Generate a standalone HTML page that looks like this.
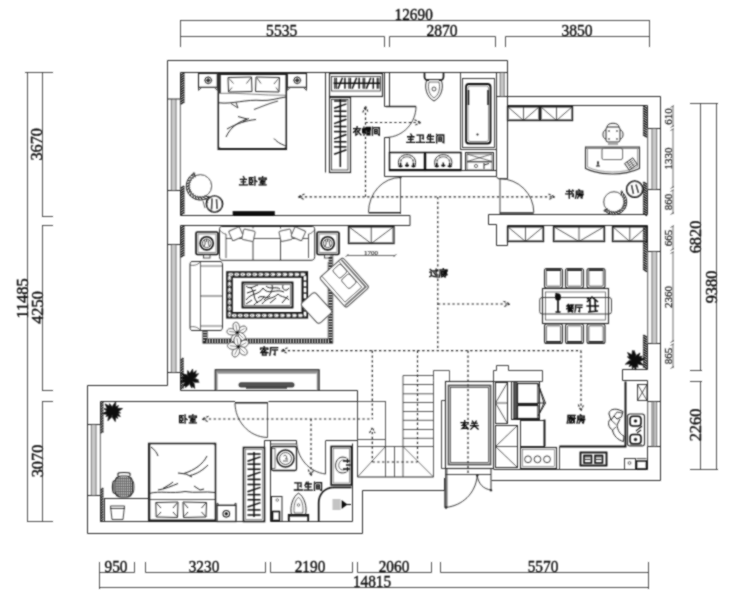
<!DOCTYPE html>
<html><head><meta charset="utf-8"><title>Floor plan</title>
<style>
html,body{margin:0;padding:0;background:#fff;}
body{width:740px;height:600px;overflow:hidden;font-family:"Liberation Serif",serif;}
svg{display:block}
</style></head><body>
<svg width="740" height="600" viewBox="0 0 740 600" stroke-linecap="butt">
<defs><filter id="soft" x="0" y="0" width="740" height="600" filterUnits="userSpaceOnUse"><feConvolveMatrix order="3" kernelMatrix="1 2 1 2 8 2 1 2 1" divisor="20" edgeMode="duplicate" preserveAlpha="false"/></filter></defs>
<rect x="0" y="0" width="740" height="600" fill="#ffffff"/>
<g filter="url(#soft)">
<line x1="180" y1="20.5" x2="649.5" y2="20.5" stroke="#3a3a3a" stroke-width="0.9" />
<line x1="180.5" y1="20" x2="180.5" y2="47" stroke="#3a3a3a" stroke-width="0.9" />
<line x1="649.5" y1="20" x2="649.5" y2="47" stroke="#3a3a3a" stroke-width="0.9" />
<polyline points="180.5,36.5 384.5,36.5 384.5,47" fill="none" stroke="#3a3a3a" stroke-width="0.9" />
<polyline points="389.5,47 389.5,36.5 495.5,36.5 495.5,47" fill="none" stroke="#3a3a3a" stroke-width="0.9" />
<polyline points="505.5,47 505.5,36.5 649.5,36.5" fill="none" stroke="#3a3a3a" stroke-width="0.9" />
<text x="413.7" y="19.5" font-family="'Liberation Serif', serif" font-size="16" text-anchor="middle" fill="#111" stroke="#111" stroke-width="0.4" textLength="38.2" lengthAdjust="spacingAndGlyphs">12690</text>
<text x="281.7" y="36" font-family="'Liberation Serif', serif" font-size="16" text-anchor="middle" fill="#111" stroke="#111" stroke-width="0.4" textLength="31.2" lengthAdjust="spacingAndGlyphs">5535</text>
<text x="442" y="36" font-family="'Liberation Serif', serif" font-size="16" text-anchor="middle" fill="#111" stroke="#111" stroke-width="0.4" textLength="31.2" lengthAdjust="spacingAndGlyphs">2870</text>
<text x="577" y="36" font-family="'Liberation Serif', serif" font-size="16" text-anchor="middle" fill="#111" stroke="#111" stroke-width="0.4" textLength="31.2" lengthAdjust="spacingAndGlyphs">3850</text>
<line x1="27.5" y1="72" x2="27.5" y2="521.5" stroke="#3a3a3a" stroke-width="0.9" />
<line x1="42.5" y1="72" x2="42.5" y2="216.5" stroke="#3a3a3a" stroke-width="0.9" />
<line x1="42.5" y1="225" x2="42.5" y2="390.5" stroke="#3a3a3a" stroke-width="0.9" />
<line x1="42.5" y1="401.5" x2="42.5" y2="521.5" stroke="#3a3a3a" stroke-width="0.9" />
<line x1="25" y1="72.5" x2="53" y2="72.5" stroke="#3a3a3a" stroke-width="0.9" />
<line x1="42" y1="216.5" x2="53" y2="216.5" stroke="#3a3a3a" stroke-width="0.9" />
<line x1="42" y1="225.5" x2="53" y2="225.5" stroke="#3a3a3a" stroke-width="0.9" />
<line x1="42" y1="390.5" x2="53" y2="390.5" stroke="#3a3a3a" stroke-width="0.9" />
<line x1="42" y1="401.5" x2="53" y2="401.5" stroke="#3a3a3a" stroke-width="0.9" />
<line x1="27" y1="521.5" x2="53" y2="521.5" stroke="#3a3a3a" stroke-width="0.9" />
<text x="42.5" y="144.3" font-family="'Liberation Serif', serif" font-size="16.3" text-anchor="middle" fill="#111" stroke="#111" stroke-width="0.4" transform="rotate(-90 42.5 144.3)" >3670</text>
<text x="27.5" y="298.5" font-family="'Liberation Serif', serif" font-size="16.3" text-anchor="middle" fill="#111" stroke="#111" stroke-width="0.4" transform="rotate(-90 27.5 298.5)" >11485</text>
<text x="42.5" y="307.5" font-family="'Liberation Serif', serif" font-size="16.3" text-anchor="middle" fill="#111" stroke="#111" stroke-width="0.4" transform="rotate(-90 42.5 307.5)" >4250</text>
<text x="42.5" y="461" font-family="'Liberation Serif', serif" font-size="16.3" text-anchor="middle" fill="#111" stroke="#111" stroke-width="0.4" transform="rotate(-90 42.5 461)" >3070</text>
<line x1="700.5" y1="103" x2="700.5" y2="370.5" stroke="#3a3a3a" stroke-width="0.9" />
<line x1="700.5" y1="381.5" x2="700.5" y2="469.5" stroke="#3a3a3a" stroke-width="0.9" />
<line x1="716.5" y1="103" x2="716.5" y2="469.5" stroke="#3a3a3a" stroke-width="0.9" />
<line x1="690" y1="103.5" x2="718" y2="103.5" stroke="#3a3a3a" stroke-width="0.9" />
<line x1="690" y1="370.5" x2="702" y2="370.5" stroke="#3a3a3a" stroke-width="0.9" />
<line x1="690" y1="381.5" x2="702" y2="381.5" stroke="#3a3a3a" stroke-width="0.9" />
<line x1="690" y1="469.5" x2="718" y2="469.5" stroke="#3a3a3a" stroke-width="0.9" />
<text x="701.3" y="237" font-family="'Liberation Serif', serif" font-size="16.3" text-anchor="middle" fill="#111" stroke="#111" stroke-width="0.4" transform="rotate(-90 701.3 237)" >6820</text>
<text x="716.8" y="287" font-family="'Liberation Serif', serif" font-size="16.3" text-anchor="middle" fill="#111" stroke="#111" stroke-width="0.4" transform="rotate(-90 716.8 287)" >9380</text>
<text x="701.3" y="425" font-family="'Liberation Serif', serif" font-size="16.3" text-anchor="middle" fill="#111" stroke="#111" stroke-width="0.4" transform="rotate(-90 701.3 425)" >2260</text>
<line x1="673" y1="106" x2="673" y2="127" stroke="#444" stroke-width="0.8" />
<line x1="670.5" y1="107.5" x2="674" y2="105.5" stroke="#444" stroke-width="0.8" />
<line x1="670.5" y1="127.5" x2="674" y2="125.5" stroke="#444" stroke-width="0.8" />
<text x="672.3" y="116.5" font-family="'Liberation Serif', serif" font-size="11" text-anchor="middle" fill="#222" stroke="#222" stroke-width="0.25" transform="rotate(-90 672.3 116.5)" >610</text>
<line x1="673" y1="129" x2="673" y2="188" stroke="#444" stroke-width="0.8" />
<line x1="670.5" y1="130.5" x2="674" y2="128.5" stroke="#444" stroke-width="0.8" />
<line x1="670.5" y1="188.5" x2="674" y2="186.5" stroke="#444" stroke-width="0.8" />
<text x="672.3" y="158.5" font-family="'Liberation Serif', serif" font-size="11" text-anchor="middle" fill="#222" stroke="#222" stroke-width="0.25" transform="rotate(-90 672.3 158.5)" >1330</text>
<line x1="673" y1="190" x2="673" y2="214" stroke="#444" stroke-width="0.8" />
<line x1="670.5" y1="191.5" x2="674" y2="189.5" stroke="#444" stroke-width="0.8" />
<line x1="670.5" y1="214.5" x2="674" y2="212.5" stroke="#444" stroke-width="0.8" />
<text x="672.3" y="202.0" font-family="'Liberation Serif', serif" font-size="11" text-anchor="middle" fill="#222" stroke="#222" stroke-width="0.25" transform="rotate(-90 672.3 202.0)" >860</text>
<line x1="673" y1="226" x2="673" y2="250" stroke="#444" stroke-width="0.8" />
<line x1="670.5" y1="227.5" x2="674" y2="225.5" stroke="#444" stroke-width="0.8" />
<line x1="670.5" y1="250.5" x2="674" y2="248.5" stroke="#444" stroke-width="0.8" />
<text x="672.3" y="238.0" font-family="'Liberation Serif', serif" font-size="11" text-anchor="middle" fill="#222" stroke="#222" stroke-width="0.25" transform="rotate(-90 672.3 238.0)" >665</text>
<line x1="673" y1="252" x2="673" y2="342" stroke="#444" stroke-width="0.8" />
<line x1="670.5" y1="253.5" x2="674" y2="251.5" stroke="#444" stroke-width="0.8" />
<line x1="670.5" y1="342.5" x2="674" y2="340.5" stroke="#444" stroke-width="0.8" />
<text x="672.3" y="297.0" font-family="'Liberation Serif', serif" font-size="11" text-anchor="middle" fill="#222" stroke="#222" stroke-width="0.25" transform="rotate(-90 672.3 297.0)" >2360</text>
<line x1="673" y1="344" x2="673" y2="368" stroke="#444" stroke-width="0.8" />
<line x1="670.5" y1="345.5" x2="674" y2="343.5" stroke="#444" stroke-width="0.8" />
<line x1="670.5" y1="368.5" x2="674" y2="366.5" stroke="#444" stroke-width="0.8" />
<text x="672.3" y="356.0" font-family="'Liberation Serif', serif" font-size="11" text-anchor="middle" fill="#222" stroke="#222" stroke-width="0.25" transform="rotate(-90 672.3 356.0)" >865</text>
<line x1="99" y1="587.5" x2="648.5" y2="587.5" stroke="#3a3a3a" stroke-width="0.9" />
<line x1="99.5" y1="562" x2="99.5" y2="589" stroke="#3a3a3a" stroke-width="0.9" />
<line x1="648.5" y1="562" x2="648.5" y2="589" stroke="#3a3a3a" stroke-width="0.9" />
<polyline points="99.5,572.5 134.5,572.5 134.5,562" fill="none" stroke="#3a3a3a" stroke-width="0.9" />
<polyline points="145.5,562 145.5,572.5 265.5,572.5 265.5,562" fill="none" stroke="#3a3a3a" stroke-width="0.9" />
<polyline points="270.5,562 270.5,572.5 352.5,572.5 352.5,562" fill="none" stroke="#3a3a3a" stroke-width="0.9" />
<polyline points="357.5,562 357.5,572.5 431.5,572.5 431.5,562" fill="none" stroke="#3a3a3a" stroke-width="0.9" />
<polyline points="440.5,562 440.5,572.5 648.5,572.5" fill="none" stroke="#3a3a3a" stroke-width="0.9" />
<text x="116" y="572" font-family="'Liberation Serif', serif" font-size="16" text-anchor="middle" fill="#111" stroke="#111" stroke-width="0.4" textLength="23.0" lengthAdjust="spacingAndGlyphs">950</text>
<text x="204" y="572" font-family="'Liberation Serif', serif" font-size="16" text-anchor="middle" fill="#111" stroke="#111" stroke-width="0.4" textLength="30.6" lengthAdjust="spacingAndGlyphs">3230</text>
<text x="310" y="572" font-family="'Liberation Serif', serif" font-size="16" text-anchor="middle" fill="#111" stroke="#111" stroke-width="0.4" textLength="30.6" lengthAdjust="spacingAndGlyphs">2190</text>
<text x="394" y="572" font-family="'Liberation Serif', serif" font-size="16" text-anchor="middle" fill="#111" stroke="#111" stroke-width="0.4" textLength="30.6" lengthAdjust="spacingAndGlyphs">2060</text>
<text x="543" y="572" font-family="'Liberation Serif', serif" font-size="16" text-anchor="middle" fill="#111" stroke="#111" stroke-width="0.4" textLength="30.6" lengthAdjust="spacingAndGlyphs">5570</text>
<text x="372" y="587" font-family="'Liberation Serif', serif" font-size="16" text-anchor="middle" fill="#111" stroke="#111" stroke-width="0.4" textLength="38.2" lengthAdjust="spacingAndGlyphs">14815</text>
<polyline points="167.5,385.5 167.5,60.5 507.5,60.5 507.5,96.5" fill="none" stroke="#2b2b2b" stroke-width="1" />
<polyline points="496.5,96.5 660.5,96.5 660.5,480.5 491.5,480.5" fill="none" stroke="#2b2b2b" stroke-width="1" />
<polyline points="444.5,478 444.5,490.5 362.5,490.5 362.5,533.5 87.5,533.5 87.5,385.5 167.5,385.5" fill="none" stroke="#2b2b2b" stroke-width="1" />
<line x1="180.5" y1="72.5" x2="496.5" y2="72.5" stroke="#2b2b2b" stroke-width="1" />
<line x1="180.5" y1="72.5" x2="180.5" y2="99" stroke="#2b2b2b" stroke-width="1" />
<rect x="171.34" y="99" width="4.74" height="91.5" fill="#c9c9c9" stroke="none"/>
<line x1="171.34" y1="99" x2="171.34" y2="190.5" stroke="#555" stroke-width="0.8" />
<line x1="176.08" y1="99" x2="176.08" y2="190.5" stroke="#555" stroke-width="0.8" />
<line x1="180.3" y1="99" x2="180.3" y2="190.5" stroke="#444" stroke-width="0.9" />
<line x1="167.5" y1="99" x2="180.3" y2="99" stroke="#2b2b2b" stroke-width="1" />
<line x1="167.5" y1="190.5" x2="180.3" y2="190.5" stroke="#2b2b2b" stroke-width="1" />
<line x1="180.5" y1="190.5" x2="180.5" y2="215.5" stroke="#2b2b2b" stroke-width="1" />
<line x1="180.5" y1="225.5" x2="180.5" y2="244.5" stroke="#2b2b2b" stroke-width="1" />
<rect x="171.34" y="244.5" width="4.74" height="128.0" fill="#c9c9c9" stroke="none"/>
<line x1="171.34" y1="244.5" x2="171.34" y2="372.5" stroke="#555" stroke-width="0.8" />
<line x1="176.08" y1="244.5" x2="176.08" y2="372.5" stroke="#555" stroke-width="0.8" />
<line x1="180.3" y1="244.5" x2="180.3" y2="372.5" stroke="#444" stroke-width="0.9" />
<line x1="167.5" y1="244.5" x2="180.3" y2="244.5" stroke="#2b2b2b" stroke-width="1" />
<line x1="167.5" y1="372.5" x2="180.3" y2="372.5" stroke="#2b2b2b" stroke-width="1" />
<line x1="180.5" y1="372.5" x2="180.5" y2="390.5" stroke="#2b2b2b" stroke-width="1" />
<polyline points="180.5,215.5 410,215.5 410,225.5 180.5,225.5" fill="none" stroke="#2b2b2b" stroke-width="1" />
<line x1="325.5" y1="72.5" x2="325.5" y2="172.5" stroke="#2b2b2b" stroke-width="1" />
<polyline points="384.5,72.5 384.5,106.5" fill="none" stroke="#2b2b2b" stroke-width="1" />
<polyline points="389.5,72.5 389.5,106.5" fill="none" stroke="#2b2b2b" stroke-width="1" />
<line x1="384.5" y1="106.5" x2="389.5" y2="106.5" stroke="#2b2b2b" stroke-width="1" />
<polyline points="384.5,137.5 384.5,176.5 496.5,176.5" fill="none" stroke="#2b2b2b" stroke-width="1" />
<polyline points="384.5,137.5 389.5,137.5 389.5,170.5 496.5,170.5" fill="none" stroke="#2b2b2b" stroke-width="1" />
<line x1="496.5" y1="72.5" x2="496.5" y2="176.5" stroke="#2b2b2b" stroke-width="1" />
<line x1="507.5" y1="96.5" x2="507.5" y2="178.7" stroke="#2b2b2b" stroke-width="1" />
<polyline points="496.5,176.5 498,178.7 507.5,178.7" fill="none" stroke="#2b2b2b" stroke-width="1" />
<rect x="500.13" y="72.5" width="4.07" height="24.0" fill="#c9c9c9" stroke="none"/>
<line x1="500.13" y1="72.5" x2="500.13" y2="96.5" stroke="#555" stroke-width="0.8" />
<line x1="504.2" y1="72.5" x2="504.2" y2="96.5" stroke="#555" stroke-width="0.8" />
<line x1="496.5" y1="72.5" x2="496.5" y2="96.5" stroke="#444" stroke-width="0.9" />
<line x1="496.5" y1="72.5" x2="507.5" y2="72.5" stroke="#2b2b2b" stroke-width="1" />
<line x1="496.5" y1="96.5" x2="507.5" y2="96.5" stroke="#2b2b2b" stroke-width="1" />
<line x1="507.5" y1="105.5" x2="647.5" y2="105.5" stroke="#2b2b2b" stroke-width="1" />
<line x1="647.5" y1="105.5" x2="647.5" y2="128.5" stroke="#2b2b2b" stroke-width="1" />
<rect x="651.92" y="128.5" width="4.74" height="61.0" fill="#c9c9c9" stroke="none"/>
<line x1="651.92" y1="128.5" x2="651.92" y2="189.5" stroke="#555" stroke-width="0.8" />
<line x1="656.66" y1="128.5" x2="656.66" y2="189.5" stroke="#555" stroke-width="0.8" />
<line x1="647.7" y1="128.5" x2="647.7" y2="189.5" stroke="#444" stroke-width="0.9" />
<line x1="647.7" y1="128.5" x2="660.5" y2="128.5" stroke="#2b2b2b" stroke-width="1" />
<line x1="647.7" y1="189.5" x2="660.5" y2="189.5" stroke="#2b2b2b" stroke-width="1" />
<line x1="647.5" y1="189.5" x2="647.5" y2="214.5" stroke="#2b2b2b" stroke-width="1" />
<polyline points="647.5,214.5 488.5,214.5 488.5,224.5 496.5,224.5 496.5,245.5 507.5,245.5 507.5,225.5 647.5,225.5 647.5,251.5" fill="none" stroke="#2b2b2b" stroke-width="1" />
<rect x="651.92" y="251.5" width="4.74" height="92.0" fill="#c9c9c9" stroke="none"/>
<line x1="651.92" y1="251.5" x2="651.92" y2="343.5" stroke="#555" stroke-width="0.8" />
<line x1="656.66" y1="251.5" x2="656.66" y2="343.5" stroke="#555" stroke-width="0.8" />
<line x1="647.7" y1="251.5" x2="647.7" y2="343.5" stroke="#444" stroke-width="0.9" />
<line x1="647.7" y1="251.5" x2="660.5" y2="251.5" stroke="#2b2b2b" stroke-width="1" />
<line x1="647.7" y1="343.5" x2="660.5" y2="343.5" stroke="#2b2b2b" stroke-width="1" />
<polyline points="647.5,343.5 647.5,369.5 622.5,369.5 622.5,380.5 647.5,380.5 647.5,401.5" fill="none" stroke="#2b2b2b" stroke-width="1" />
<rect x="651.92" y="401.5" width="4.74" height="45.0" fill="#c9c9c9" stroke="none"/>
<line x1="651.92" y1="401.5" x2="651.92" y2="446.5" stroke="#555" stroke-width="0.8" />
<line x1="656.66" y1="401.5" x2="656.66" y2="446.5" stroke="#555" stroke-width="0.8" />
<line x1="647.7" y1="401.5" x2="647.7" y2="446.5" stroke="#444" stroke-width="0.9" />
<line x1="647.7" y1="401.5" x2="660.5" y2="401.5" stroke="#2b2b2b" stroke-width="1" />
<line x1="647.7" y1="446.5" x2="660.5" y2="446.5" stroke="#2b2b2b" stroke-width="1" />
<line x1="653.8" y1="401.5" x2="653.8" y2="446.5" stroke="#666" stroke-width="0.7" />
<polyline points="647.5,446.5 647.5,469.5 493.5,469.5" fill="none" stroke="#2b2b2b" stroke-width="1" />
<line x1="180.5" y1="390.5" x2="357.5" y2="390.5" stroke="#2b2b2b" stroke-width="1" />
<polyline points="235,401.5 100.5,401.5 100.5,424.5" fill="none" stroke="#2b2b2b" stroke-width="1" />
<rect x="91.34" y="424.5" width="4.74" height="71.0" fill="#c9c9c9" stroke="none"/>
<line x1="91.34" y1="424.5" x2="91.34" y2="495.5" stroke="#555" stroke-width="0.8" />
<line x1="96.08" y1="424.5" x2="96.08" y2="495.5" stroke="#555" stroke-width="0.8" />
<line x1="100.3" y1="424.5" x2="100.3" y2="495.5" stroke="#444" stroke-width="0.9" />
<line x1="87.5" y1="424.5" x2="100.3" y2="424.5" stroke="#2b2b2b" stroke-width="1" />
<line x1="87.5" y1="495.5" x2="100.3" y2="495.5" stroke="#2b2b2b" stroke-width="1" />
<polyline points="100.5,495.5 100.5,521.5 264.5,521.5" fill="none" stroke="#2b2b2b" stroke-width="1" />
<line x1="268.5" y1="401.5" x2="357.5" y2="401.5" stroke="#2b2b2b" stroke-width="1" />
<polyline points="264.5,521.5 264.5,440.5" fill="none" stroke="#2b2b2b" stroke-width="1" />
<polyline points="270.5,521.5 270.5,440.5" fill="none" stroke="#2b2b2b" stroke-width="1" />
<line x1="264.5" y1="440.5" x2="296.5" y2="440.5" stroke="#2b2b2b" stroke-width="1" />
<line x1="325.5" y1="440.5" x2="357.5" y2="440.5" stroke="#2b2b2b" stroke-width="1" />
<line x1="270.5" y1="521.5" x2="352.5" y2="521.5" stroke="#2b2b2b" stroke-width="1" />
<line x1="352.5" y1="521.5" x2="352.5" y2="443.5" stroke="#2b2b2b" stroke-width="1" />
<line x1="357.5" y1="390.5" x2="357.5" y2="477" stroke="#2b2b2b" stroke-width="1" />
<line x1="357.5" y1="477" x2="433.5" y2="477" stroke="#2b2b2b" stroke-width="1" />
<line x1="180.5" y1="75.4" x2="184.1" y2="73" stroke="#1c1c1c" stroke-width="1.5" />
<line x1="180.5" y1="77.80000000000001" x2="184.1" y2="75.4" stroke="#1c1c1c" stroke-width="1.5" />
<line x1="180.5" y1="80.20000000000002" x2="184.1" y2="77.80000000000001" stroke="#1c1c1c" stroke-width="1.5" />
<line x1="180.5" y1="82.60000000000002" x2="184.1" y2="80.20000000000002" stroke="#1c1c1c" stroke-width="1.5" />
<line x1="180.5" y1="85.00000000000003" x2="184.1" y2="82.60000000000002" stroke="#1c1c1c" stroke-width="1.5" />
<line x1="180.5" y1="87.40000000000003" x2="184.1" y2="85.00000000000003" stroke="#1c1c1c" stroke-width="1.5" />
<line x1="180.5" y1="89.80000000000004" x2="184.1" y2="87.40000000000003" stroke="#1c1c1c" stroke-width="1.5" />
<line x1="180.5" y1="92.20000000000005" x2="184.1" y2="89.80000000000004" stroke="#1c1c1c" stroke-width="1.5" />
<line x1="180.5" y1="94.60000000000005" x2="184.1" y2="92.20000000000005" stroke="#1c1c1c" stroke-width="1.5" />
<line x1="180.5" y1="97.00000000000006" x2="184.1" y2="94.60000000000005" stroke="#1c1c1c" stroke-width="1.5" />
<line x1="180.5" y1="99.40000000000006" x2="184.1" y2="97.00000000000006" stroke="#1c1c1c" stroke-width="1.5" />
<line x1="180.5" y1="101.80000000000007" x2="184.1" y2="99.40000000000006" stroke="#1c1c1c" stroke-width="1.5" />
<line x1="180.5" y1="104.20000000000007" x2="184.1" y2="101.80000000000007" stroke="#1c1c1c" stroke-width="1.5" />
<line x1="184.1" y1="73" x2="184.1" y2="103" stroke="#1c1c1c" stroke-width="0.6" />
<line x1="180.5" y1="188.4" x2="184.1" y2="186" stroke="#1c1c1c" stroke-width="1.5" />
<line x1="180.5" y1="190.8" x2="184.1" y2="188.4" stroke="#1c1c1c" stroke-width="1.5" />
<line x1="180.5" y1="193.20000000000002" x2="184.1" y2="190.8" stroke="#1c1c1c" stroke-width="1.5" />
<line x1="180.5" y1="195.60000000000002" x2="184.1" y2="193.20000000000002" stroke="#1c1c1c" stroke-width="1.5" />
<line x1="180.5" y1="198.00000000000003" x2="184.1" y2="195.60000000000002" stroke="#1c1c1c" stroke-width="1.5" />
<line x1="180.5" y1="200.40000000000003" x2="184.1" y2="198.00000000000003" stroke="#1c1c1c" stroke-width="1.5" />
<line x1="180.5" y1="202.80000000000004" x2="184.1" y2="200.40000000000003" stroke="#1c1c1c" stroke-width="1.5" />
<line x1="180.5" y1="205.20000000000005" x2="184.1" y2="202.80000000000004" stroke="#1c1c1c" stroke-width="1.5" />
<line x1="180.5" y1="207.60000000000005" x2="184.1" y2="205.20000000000005" stroke="#1c1c1c" stroke-width="1.5" />
<line x1="180.5" y1="210.00000000000006" x2="184.1" y2="207.60000000000005" stroke="#1c1c1c" stroke-width="1.5" />
<line x1="180.5" y1="212.40000000000006" x2="184.1" y2="210.00000000000006" stroke="#1c1c1c" stroke-width="1.5" />
<line x1="180.5" y1="214.80000000000007" x2="184.1" y2="212.40000000000006" stroke="#1c1c1c" stroke-width="1.5" />
<line x1="184.1" y1="186" x2="184.1" y2="214" stroke="#1c1c1c" stroke-width="0.6" />
<line x1="180.5" y1="228.4" x2="184.1" y2="226" stroke="#1c1c1c" stroke-width="1.5" />
<line x1="180.5" y1="230.8" x2="184.1" y2="228.4" stroke="#1c1c1c" stroke-width="1.5" />
<line x1="180.5" y1="233.20000000000002" x2="184.1" y2="230.8" stroke="#1c1c1c" stroke-width="1.5" />
<line x1="180.5" y1="235.60000000000002" x2="184.1" y2="233.20000000000002" stroke="#1c1c1c" stroke-width="1.5" />
<line x1="180.5" y1="238.00000000000003" x2="184.1" y2="235.60000000000002" stroke="#1c1c1c" stroke-width="1.5" />
<line x1="180.5" y1="240.40000000000003" x2="184.1" y2="238.00000000000003" stroke="#1c1c1c" stroke-width="1.5" />
<line x1="180.5" y1="242.80000000000004" x2="184.1" y2="240.40000000000003" stroke="#1c1c1c" stroke-width="1.5" />
<line x1="180.5" y1="245.20000000000005" x2="184.1" y2="242.80000000000004" stroke="#1c1c1c" stroke-width="1.5" />
<line x1="180.5" y1="247.60000000000005" x2="184.1" y2="245.20000000000005" stroke="#1c1c1c" stroke-width="1.5" />
<line x1="180.5" y1="250.00000000000006" x2="184.1" y2="247.60000000000005" stroke="#1c1c1c" stroke-width="1.5" />
<line x1="180.5" y1="252.40000000000006" x2="184.1" y2="250.00000000000006" stroke="#1c1c1c" stroke-width="1.5" />
<line x1="180.5" y1="254.80000000000007" x2="184.1" y2="252.40000000000006" stroke="#1c1c1c" stroke-width="1.5" />
<line x1="180.5" y1="257.20000000000005" x2="184.1" y2="254.80000000000007" stroke="#1c1c1c" stroke-width="1.5" />
<line x1="184.1" y1="226" x2="184.1" y2="256" stroke="#1c1c1c" stroke-width="0.6" />
<line x1="180.5" y1="360.6" x2="183.3" y2="358" stroke="#2a2a2a" stroke-width="1.5" />
<line x1="180.5" y1="363.20000000000005" x2="183.3" y2="360.6" stroke="#2a2a2a" stroke-width="1.5" />
<line x1="180.5" y1="365.80000000000007" x2="183.3" y2="363.20000000000005" stroke="#2a2a2a" stroke-width="1.5" />
<line x1="180.5" y1="368.4000000000001" x2="183.3" y2="365.80000000000007" stroke="#2a2a2a" stroke-width="1.5" />
<line x1="180.5" y1="371.0000000000001" x2="183.3" y2="368.4000000000001" stroke="#2a2a2a" stroke-width="1.5" />
<line x1="180.5" y1="373.60000000000014" x2="183.3" y2="371.0000000000001" stroke="#2a2a2a" stroke-width="1.5" />
<line x1="180.5" y1="376.20000000000016" x2="183.3" y2="373.60000000000014" stroke="#2a2a2a" stroke-width="1.5" />
<line x1="180.5" y1="378.8000000000002" x2="183.3" y2="376.20000000000016" stroke="#2a2a2a" stroke-width="1.5" />
<line x1="180.5" y1="381.4000000000002" x2="183.3" y2="378.8000000000002" stroke="#2a2a2a" stroke-width="1.5" />
<line x1="180.5" y1="384.0000000000002" x2="183.3" y2="381.4000000000002" stroke="#2a2a2a" stroke-width="1.5" />
<line x1="180.5" y1="386.60000000000025" x2="183.3" y2="384.0000000000002" stroke="#2a2a2a" stroke-width="1.5" />
<line x1="180.5" y1="389.2000000000003" x2="183.3" y2="386.60000000000025" stroke="#2a2a2a" stroke-width="1.5" />
<line x1="183.3" y1="358" x2="183.3" y2="389" stroke="#2a2a2a" stroke-width="0.6" />
<line x1="100.5" y1="404.6" x2="103.1" y2="402" stroke="#333" stroke-width="1.5" />
<line x1="100.5" y1="407.20000000000005" x2="103.1" y2="404.6" stroke="#333" stroke-width="1.5" />
<line x1="100.5" y1="409.80000000000007" x2="103.1" y2="407.20000000000005" stroke="#333" stroke-width="1.5" />
<line x1="100.5" y1="412.4000000000001" x2="103.1" y2="409.80000000000007" stroke="#333" stroke-width="1.5" />
<line x1="100.5" y1="415.0000000000001" x2="103.1" y2="412.4000000000001" stroke="#333" stroke-width="1.5" />
<line x1="100.5" y1="417.60000000000014" x2="103.1" y2="415.0000000000001" stroke="#333" stroke-width="1.5" />
<line x1="100.5" y1="420.20000000000016" x2="103.1" y2="417.60000000000014" stroke="#333" stroke-width="1.5" />
<line x1="100.5" y1="422.8000000000002" x2="103.1" y2="420.20000000000016" stroke="#333" stroke-width="1.5" />
<line x1="100.5" y1="425.4000000000002" x2="103.1" y2="422.8000000000002" stroke="#333" stroke-width="1.5" />
<line x1="100.5" y1="428.0000000000002" x2="103.1" y2="425.4000000000002" stroke="#333" stroke-width="1.5" />
<line x1="100.5" y1="430.60000000000025" x2="103.1" y2="428.0000000000002" stroke="#333" stroke-width="1.5" />
<line x1="100.5" y1="433.2000000000003" x2="103.1" y2="430.60000000000025" stroke="#333" stroke-width="1.5" />
<line x1="103.1" y1="402" x2="103.1" y2="433" stroke="#333" stroke-width="0.6" />
<line x1="100.5" y1="490.6" x2="103.1" y2="488" stroke="#333" stroke-width="1.5" />
<line x1="100.5" y1="493.20000000000005" x2="103.1" y2="490.6" stroke="#333" stroke-width="1.5" />
<line x1="100.5" y1="495.80000000000007" x2="103.1" y2="493.20000000000005" stroke="#333" stroke-width="1.5" />
<line x1="100.5" y1="498.4000000000001" x2="103.1" y2="495.80000000000007" stroke="#333" stroke-width="1.5" />
<line x1="100.5" y1="501.0000000000001" x2="103.1" y2="498.4000000000001" stroke="#333" stroke-width="1.5" />
<line x1="100.5" y1="503.60000000000014" x2="103.1" y2="501.0000000000001" stroke="#333" stroke-width="1.5" />
<line x1="100.5" y1="506.20000000000016" x2="103.1" y2="503.60000000000014" stroke="#333" stroke-width="1.5" />
<line x1="100.5" y1="508.8000000000002" x2="103.1" y2="506.20000000000016" stroke="#333" stroke-width="1.5" />
<line x1="100.5" y1="511.4000000000002" x2="103.1" y2="508.8000000000002" stroke="#333" stroke-width="1.5" />
<line x1="100.5" y1="514.0000000000002" x2="103.1" y2="511.4000000000002" stroke="#333" stroke-width="1.5" />
<line x1="100.5" y1="516.6000000000003" x2="103.1" y2="514.0000000000002" stroke="#333" stroke-width="1.5" />
<line x1="100.5" y1="519.2000000000003" x2="103.1" y2="516.6000000000003" stroke="#333" stroke-width="1.5" />
<line x1="100.5" y1="521.8000000000003" x2="103.1" y2="519.2000000000003" stroke="#333" stroke-width="1.5" />
<line x1="103.1" y1="488" x2="103.1" y2="520" stroke="#333" stroke-width="0.6" />
<line x1="643.4" y1="106" x2="647" y2="108.4" stroke="#1c1c1c" stroke-width="1.5" />
<line x1="643.4" y1="108.4" x2="647" y2="110.80000000000001" stroke="#1c1c1c" stroke-width="1.5" />
<line x1="643.4" y1="110.80000000000001" x2="647" y2="113.20000000000002" stroke="#1c1c1c" stroke-width="1.5" />
<line x1="643.4" y1="113.20000000000002" x2="647" y2="115.60000000000002" stroke="#1c1c1c" stroke-width="1.5" />
<line x1="643.4" y1="115.60000000000002" x2="647" y2="118.00000000000003" stroke="#1c1c1c" stroke-width="1.5" />
<line x1="643.4" y1="118.00000000000003" x2="647" y2="120.40000000000003" stroke="#1c1c1c" stroke-width="1.5" />
<line x1="643.4" y1="120.40000000000003" x2="647" y2="122.80000000000004" stroke="#1c1c1c" stroke-width="1.5" />
<line x1="643.4" y1="122.80000000000004" x2="647" y2="125.20000000000005" stroke="#1c1c1c" stroke-width="1.5" />
<line x1="643.4" y1="125.20000000000005" x2="647" y2="127.60000000000005" stroke="#1c1c1c" stroke-width="1.5" />
<line x1="643.4" y1="127.60000000000005" x2="647" y2="130.00000000000006" stroke="#1c1c1c" stroke-width="1.5" />
<line x1="643.4" y1="130.00000000000006" x2="647" y2="132.40000000000006" stroke="#1c1c1c" stroke-width="1.5" />
<line x1="643.4" y1="132.40000000000006" x2="647" y2="134.80000000000007" stroke="#1c1c1c" stroke-width="1.5" />
<line x1="643.4" y1="134.80000000000007" x2="647" y2="137.20000000000007" stroke="#1c1c1c" stroke-width="1.5" />
<line x1="643.4" y1="106" x2="643.4" y2="136" stroke="#1c1c1c" stroke-width="0.6" />
<line x1="643.4" y1="182" x2="647" y2="184.4" stroke="#1c1c1c" stroke-width="1.5" />
<line x1="643.4" y1="184.4" x2="647" y2="186.8" stroke="#1c1c1c" stroke-width="1.5" />
<line x1="643.4" y1="186.8" x2="647" y2="189.20000000000002" stroke="#1c1c1c" stroke-width="1.5" />
<line x1="643.4" y1="189.20000000000002" x2="647" y2="191.60000000000002" stroke="#1c1c1c" stroke-width="1.5" />
<line x1="643.4" y1="191.60000000000002" x2="647" y2="194.00000000000003" stroke="#1c1c1c" stroke-width="1.5" />
<line x1="643.4" y1="194.00000000000003" x2="647" y2="196.40000000000003" stroke="#1c1c1c" stroke-width="1.5" />
<line x1="643.4" y1="196.40000000000003" x2="647" y2="198.80000000000004" stroke="#1c1c1c" stroke-width="1.5" />
<line x1="643.4" y1="198.80000000000004" x2="647" y2="201.20000000000005" stroke="#1c1c1c" stroke-width="1.5" />
<line x1="643.4" y1="201.20000000000005" x2="647" y2="203.60000000000005" stroke="#1c1c1c" stroke-width="1.5" />
<line x1="643.4" y1="203.60000000000005" x2="647" y2="206.00000000000006" stroke="#1c1c1c" stroke-width="1.5" />
<line x1="643.4" y1="206.00000000000006" x2="647" y2="208.40000000000006" stroke="#1c1c1c" stroke-width="1.5" />
<line x1="643.4" y1="208.40000000000006" x2="647" y2="210.80000000000007" stroke="#1c1c1c" stroke-width="1.5" />
<line x1="643.4" y1="210.80000000000007" x2="647" y2="213.20000000000007" stroke="#1c1c1c" stroke-width="1.5" />
<line x1="643.4" y1="213.20000000000007" x2="647" y2="215.60000000000008" stroke="#1c1c1c" stroke-width="1.5" />
<line x1="643.4" y1="182" x2="643.4" y2="214" stroke="#1c1c1c" stroke-width="0.6" />
<line x1="643.4" y1="226" x2="647" y2="228.4" stroke="#1c1c1c" stroke-width="1.5" />
<line x1="643.4" y1="228.4" x2="647" y2="230.8" stroke="#1c1c1c" stroke-width="1.5" />
<line x1="643.4" y1="230.8" x2="647" y2="233.20000000000002" stroke="#1c1c1c" stroke-width="1.5" />
<line x1="643.4" y1="233.20000000000002" x2="647" y2="235.60000000000002" stroke="#1c1c1c" stroke-width="1.5" />
<line x1="643.4" y1="235.60000000000002" x2="647" y2="238.00000000000003" stroke="#1c1c1c" stroke-width="1.5" />
<line x1="643.4" y1="238.00000000000003" x2="647" y2="240.40000000000003" stroke="#1c1c1c" stroke-width="1.5" />
<line x1="643.4" y1="240.40000000000003" x2="647" y2="242.80000000000004" stroke="#1c1c1c" stroke-width="1.5" />
<line x1="643.4" y1="242.80000000000004" x2="647" y2="245.20000000000005" stroke="#1c1c1c" stroke-width="1.5" />
<line x1="643.4" y1="245.20000000000005" x2="647" y2="247.60000000000005" stroke="#1c1c1c" stroke-width="1.5" />
<line x1="643.4" y1="247.60000000000005" x2="647" y2="250.00000000000006" stroke="#1c1c1c" stroke-width="1.5" />
<line x1="643.4" y1="250.00000000000006" x2="647" y2="252.40000000000006" stroke="#1c1c1c" stroke-width="1.5" />
<line x1="643.4" y1="252.40000000000006" x2="647" y2="254.80000000000007" stroke="#1c1c1c" stroke-width="1.5" />
<line x1="643.4" y1="254.80000000000007" x2="647" y2="257.20000000000005" stroke="#1c1c1c" stroke-width="1.5" />
<line x1="643.4" y1="257.20000000000005" x2="647" y2="259.6" stroke="#1c1c1c" stroke-width="1.5" />
<line x1="643.4" y1="259.6" x2="647" y2="262.0" stroke="#1c1c1c" stroke-width="1.5" />
<line x1="643.4" y1="262.0" x2="647" y2="264.4" stroke="#1c1c1c" stroke-width="1.5" />
<line x1="643.4" y1="264.4" x2="647" y2="266.79999999999995" stroke="#1c1c1c" stroke-width="1.5" />
<line x1="643.4" y1="266.79999999999995" x2="647" y2="269.19999999999993" stroke="#1c1c1c" stroke-width="1.5" />
<line x1="643.4" y1="269.19999999999993" x2="647" y2="271.5999999999999" stroke="#1c1c1c" stroke-width="1.5" />
<line x1="643.4" y1="226" x2="643.4" y2="270" stroke="#1c1c1c" stroke-width="0.6" />
<line x1="643.4" y1="335" x2="647" y2="337.4" stroke="#1c1c1c" stroke-width="1.5" />
<line x1="643.4" y1="337.4" x2="647" y2="339.79999999999995" stroke="#1c1c1c" stroke-width="1.5" />
<line x1="643.4" y1="339.79999999999995" x2="647" y2="342.19999999999993" stroke="#1c1c1c" stroke-width="1.5" />
<line x1="643.4" y1="342.19999999999993" x2="647" y2="344.5999999999999" stroke="#1c1c1c" stroke-width="1.5" />
<line x1="643.4" y1="344.5999999999999" x2="647" y2="346.9999999999999" stroke="#1c1c1c" stroke-width="1.5" />
<line x1="643.4" y1="346.9999999999999" x2="647" y2="349.39999999999986" stroke="#1c1c1c" stroke-width="1.5" />
<line x1="643.4" y1="349.39999999999986" x2="647" y2="351.79999999999984" stroke="#1c1c1c" stroke-width="1.5" />
<line x1="643.4" y1="351.79999999999984" x2="647" y2="354.1999999999998" stroke="#1c1c1c" stroke-width="1.5" />
<line x1="643.4" y1="354.1999999999998" x2="647" y2="356.5999999999998" stroke="#1c1c1c" stroke-width="1.5" />
<line x1="643.4" y1="356.5999999999998" x2="647" y2="358.9999999999998" stroke="#1c1c1c" stroke-width="1.5" />
<line x1="643.4" y1="358.9999999999998" x2="647" y2="361.39999999999975" stroke="#1c1c1c" stroke-width="1.5" />
<line x1="643.4" y1="361.39999999999975" x2="647" y2="363.7999999999997" stroke="#1c1c1c" stroke-width="1.5" />
<line x1="643.4" y1="363.7999999999997" x2="647" y2="366.1999999999997" stroke="#1c1c1c" stroke-width="1.5" />
<line x1="643.4" y1="366.1999999999997" x2="647" y2="368.5999999999997" stroke="#1c1c1c" stroke-width="1.5" />
<line x1="643.4" y1="335" x2="643.4" y2="368" stroke="#1c1c1c" stroke-width="0.6" />
<rect x="218.3" y="73.3" width="68.0" height="76.0" rx="0" fill="none" stroke="#1e1e1e" stroke-width="1.5" />
<line x1="219.6" y1="73.5" x2="219.6" y2="93" stroke="#333" stroke-width="2.4" />
<line x1="218.5" y1="74.2" x2="286.5" y2="74.2" stroke="#222" stroke-width="1.6" />
<line x1="218.5" y1="148.8" x2="286.5" y2="148.8" stroke="#222" stroke-width="1.6" />
<path d="M219,93.3 C240,92.5 262,95.5 286,95.3" fill="none" stroke="#444" stroke-width="0.7" />
<path d="M228,77.5 L251.5,77 L252,91.5 L228.5,92 Z" fill="none" stroke="#2b2b2b" stroke-width="1" />
<path d="M256,77 L279.5,77.5 L279,92 L255.5,91.5 Z" fill="none" stroke="#2b2b2b" stroke-width="1" />
<path d="M229,78.5 L233.5,83.5 M250.7,78 L246.5,83.5 M257,78 L261,83.5 M278.5,78.5 L274,84 M229.2,91 L232,87.5 M278.5,91 L276,87.5" fill="none" stroke="#2b2b2b" stroke-width="0.8" />
<path d="M219,102.8 C232,104.5 246,99 262,100.5 C270,101 278,98 286,97" fill="none" stroke="#2b2b2b" stroke-width="1" />
<path d="M231,103.5 L238,108 L236,102.5 M254,109.5 C262,106.5 270,103 278,101" fill="none" stroke="#2b2b2b" stroke-width="0.9" />
<path d="M226,137 C231,126 240,121 249,118.5 M227,129 C237,123.5 246,120.5 256,119.5 M238,116.5 L247,119 L243,122 M274,138.5 C278,143 282,144.5 286,146" fill="none" stroke="#2b2b2b" stroke-width="1" />
<circle cx="219.5" cy="148.5" r="1" fill="none" stroke="#2b2b2b" stroke-width="0.6"/>
<circle cx="285.3" cy="148.5" r="1" fill="none" stroke="#2b2b2b" stroke-width="0.6"/>
<rect x="198.5" y="73.5" width="18.8" height="13.8" rx="0" fill="none" stroke="#222" stroke-width="1.1" />
<path d="M198.5,87.3 L198.5,90.3 L201.0,88 M217.3,87.3 L217.3,90.3 L214.8,88" fill="none" stroke="#2b2b2b" stroke-width="0.9" />
<circle cx="208.20000000000002" cy="80.3" r="3.3" fill="none" stroke="#222" stroke-width="1"/>
<circle cx="208.20000000000002" cy="80.3" r="1.4" fill="#111" stroke="#111" stroke-width="0.8"/>
<path d="M204.00000000000003,80.3 L212.4,80.3 M208.20000000000002,76.2 L208.20000000000002,84.4" fill="none" stroke="#444" stroke-width="0.6" />
<rect x="287.3" y="73.5" width="19.2" height="13.8" rx="0" fill="none" stroke="#222" stroke-width="1.1" />
<path d="M287.3,87.3 L287.3,90.3 L289.8,88 M306.5,87.3 L306.5,90.3 L304.0,88" fill="none" stroke="#2b2b2b" stroke-width="0.9" />
<circle cx="297.2" cy="80.3" r="3.3" fill="none" stroke="#222" stroke-width="1"/>
<circle cx="297.2" cy="80.3" r="1.4" fill="#111" stroke="#111" stroke-width="0.8"/>
<path d="M293.0,80.3 L301.4,80.3 M297.2,76.2 L297.2,84.4" fill="none" stroke="#444" stroke-width="0.6" />
<rect x="233" y="211.3" width="41.5" height="4.0" rx="0" fill="#111" stroke="#111" stroke-width="0.6" />
<ellipse cx="200.3" cy="186" rx="11.316" ry="11.316" fill="#fff" stroke="#2b2b2b" stroke-width="1" />
<polyline points="208.8,197.2 205.9,198.9 202.7,199.9 199.4,200.0 196.1,199.4 193.1,198.1 190.4,196.1 188.4,193.5 186.9,190.4 186.3,187.2 186.4,183.9 187.3,180.7 188.9,177.8 191.1,175.3 193.9,173.5" fill="none" stroke="#2b2b2b" stroke-width="1" />
<line x1="208.8" y1="197.2" x2="204.4" y2="195.4" stroke="#222" stroke-width="1.1" />
<line x1="205.9" y1="198.9" x2="202.0" y2="196.1" stroke="#222" stroke-width="1.1" />
<line x1="202.7" y1="199.9" x2="199.6" y2="196.2" stroke="#222" stroke-width="1.1" />
<line x1="199.4" y1="200.0" x2="197.3" y2="195.8" stroke="#222" stroke-width="1.1" />
<line x1="196.1" y1="199.4" x2="195.1" y2="194.8" stroke="#222" stroke-width="1.1" />
<line x1="193.1" y1="198.1" x2="193.2" y2="193.3" stroke="#222" stroke-width="1.1" />
<line x1="190.4" y1="196.1" x2="191.6" y2="191.4" stroke="#222" stroke-width="1.1" />
<line x1="188.4" y1="193.5" x2="190.6" y2="189.2" stroke="#222" stroke-width="1.1" />
<line x1="186.9" y1="190.4" x2="190.1" y2="186.9" stroke="#222" stroke-width="1.1" />
<line x1="186.3" y1="187.2" x2="190.2" y2="184.5" stroke="#222" stroke-width="1.1" />
<line x1="186.4" y1="183.9" x2="190.9" y2="182.1" stroke="#222" stroke-width="1.1" />
<line x1="187.3" y1="180.7" x2="192.0" y2="180.0" stroke="#222" stroke-width="1.1" />
<line x1="188.9" y1="177.8" x2="193.7" y2="178.2" stroke="#222" stroke-width="1.1" />
<line x1="191.1" y1="175.3" x2="195.7" y2="176.9" stroke="#222" stroke-width="1.1" />
<line x1="193.9" y1="173.5" x2="195.7" y2="176.9" stroke="#222" stroke-width="1.1" />
<circle cx="208.8" cy="197.2" r="0.9" fill="none" stroke="#2b2b2b" stroke-width="0.7"/>
<circle cx="193.9" cy="173.5" r="0.9" fill="none" stroke="#2b2b2b" stroke-width="0.7"/>
<circle cx="214.5" cy="204" r="8" fill="#fff" stroke="#111" stroke-width="1.7"/>
<path d="M212,198.5 L211.5,209.5 M216.5,199 L217,209" fill="none" stroke="#111" stroke-width="1.6" />
<path d="M203,201 L205,208 M206,199 L208,203" fill="none" stroke="#2b2b2b" stroke-width="0.8" />
<rect x="329.5" y="73.5" width="53.0" height="23.0" rx="0" fill="none" stroke="#2b2b2b" stroke-width="1.2" />
<rect x="331.5" y="76.5" width="49.0" height="14.5" rx="0" fill="none" stroke="#2b2b2b" stroke-width="0.8" />
<line x1="333.5" y1="83.3" x2="380" y2="83.3" stroke="#111" stroke-width="1.5" />
<line x1="334.8" y1="77.8" x2="334.8" y2="88.8" stroke="#111" stroke-width="1.2" />
<line x1="336.4" y1="77.8" x2="336.4" y2="88.8" stroke="#111" stroke-width="1.0" />
<line x1="338.02222222222224" y1="88.8" x2="342.4222222222222" y2="77.8" stroke="#111" stroke-width="1.5" />
<line x1="344.94444444444446" y1="77.8" x2="344.94444444444446" y2="88.8" stroke="#111" stroke-width="1.5" />
<line x1="348.9666666666667" y1="77.8" x2="348.9666666666667" y2="88.8" stroke="#111" stroke-width="1.2" />
<line x1="350.56666666666666" y1="77.8" x2="350.56666666666666" y2="88.8" stroke="#111" stroke-width="1.0" />
<line x1="352.1888888888889" y1="88.8" x2="356.5888888888889" y2="77.8" stroke="#111" stroke-width="1.5" />
<line x1="359.1111111111111" y1="77.8" x2="359.1111111111111" y2="88.8" stroke="#111" stroke-width="1.5" />
<line x1="363.1333333333333" y1="77.8" x2="363.1333333333333" y2="88.8" stroke="#111" stroke-width="1.2" />
<line x1="364.7333333333333" y1="77.8" x2="364.7333333333333" y2="88.8" stroke="#111" stroke-width="1.0" />
<line x1="366.35555555555555" y1="88.8" x2="370.75555555555553" y2="77.8" stroke="#111" stroke-width="1.5" />
<line x1="373.27777777777777" y1="77.8" x2="373.27777777777777" y2="88.8" stroke="#111" stroke-width="1.5" />
<line x1="377.3" y1="77.8" x2="377.3" y2="88.8" stroke="#111" stroke-width="1.2" />
<line x1="378.9" y1="77.8" x2="378.9" y2="88.8" stroke="#111" stroke-width="1.0" />
<rect x="329.5" y="97.5" width="21.0" height="75.0" rx="0" fill="none" stroke="#2b2b2b" stroke-width="1.2" />
<rect x="331.5" y="99.5" width="16.5" height="70.5" rx="0" fill="none" stroke="#2b2b2b" stroke-width="0.8" />
<line x1="340.3" y1="99" x2="340.3" y2="167" stroke="#111" stroke-width="1.5" />
<line x1="334.1" y1="101.0" x2="346.5" y2="101.0" stroke="#111" stroke-width="1.5" />
<line x1="334.1" y1="108.3" x2="346.5" y2="103.89999999999999" stroke="#111" stroke-width="1.5" />
<line x1="334.1" y1="111.2" x2="346.5" y2="111.2" stroke="#111" stroke-width="1.5" />
<line x1="334.1" y1="116.3" x2="346.5" y2="116.3" stroke="#111" stroke-width="1.5" />
<line x1="334.1" y1="123.60000000000001" x2="346.5" y2="119.2" stroke="#111" stroke-width="1.5" />
<line x1="334.1" y1="126.5" x2="346.5" y2="126.5" stroke="#111" stroke-width="1.5" />
<line x1="334.1" y1="131.6" x2="346.5" y2="131.6" stroke="#111" stroke-width="1.5" />
<line x1="334.1" y1="138.89999999999998" x2="346.5" y2="134.5" stroke="#111" stroke-width="1.5" />
<line x1="334.1" y1="141.8" x2="346.5" y2="141.8" stroke="#111" stroke-width="1.5" />
<line x1="334.1" y1="146.9" x2="346.5" y2="146.9" stroke="#111" stroke-width="1.5" />
<line x1="334.1" y1="154.2" x2="346.5" y2="149.8" stroke="#111" stroke-width="1.5" />
<path d="M424.5,73 L424.5,77 C424.5,80 427,80.5 429,80 M443.5,73 L443.5,77 C443.5,80 441,80.5 439,80" fill="none" stroke="#111" stroke-width="1.6" />
<path d="M427,79.5 C424,86 426,97 434,101 C442,97 444,86 441,79.5 Z" fill="none" stroke="#2b2b2b" stroke-width="1" />
<path d="M429,82 C427.5,88 429,95 434,98 C439,95 440.5,88 439,82 Z" fill="none" stroke="#2b2b2b" stroke-width="0.7" />
<circle cx="434" cy="89" r="2" fill="none" stroke="#2b2b2b" stroke-width="0.8"/>
<rect x="460.5" y="72.5" width="36.0" height="77.0" rx="0" fill="none" stroke="#2b2b2b" stroke-width="0.9" />
<rect x="462.5" y="78.5" width="32.0" height="69.0" rx="0" fill="none" stroke="#2b2b2b" stroke-width="0.9" />
<rect x="466" y="84" width="24.5" height="59.5" rx="3" fill="none" stroke="#111" stroke-width="1.8" />
<rect x="468" y="86" width="20.5" height="55.5" rx="2" fill="none" stroke="#444" stroke-width="0.6" />
<path d="M468.5,90 L468.5,105 M488,90 L488,105" fill="none" stroke="#111" stroke-width="1.4" />
<circle cx="477.5" cy="134.5" r="0.8" fill="#333" stroke="#333" stroke-width="0.6"/>
<rect x="389.5" y="152.5" width="35.0" height="18.0" rx="0" fill="none" stroke="#111" stroke-width="1.4" />
<line x1="389.5" y1="169.8" x2="424.5" y2="169.8" stroke="#111" stroke-width="1.8" />
<path d="M398.8,165.5 C395.0,151 419.0,151 415.2,165.5" fill="none" stroke="#2b2b2b" stroke-width="1" />
<path d="M401.0,165 C398.0,154 416.0,154 413.0,165" fill="none" stroke="#2b2b2b" stroke-width="0.7" />
<path d="M403.0,156.5 L404.5,158 M411.0,156.5 L409.5,158 M400.0,160 L401.5,160.5 M414.0,160 L412.5,160.5" fill="none" stroke="#2b2b2b" stroke-width="0.7" />
<path d="M400.5,163 L400.5,167.5 M413.5,163 L413.5,167.5 M407.0,162.5 L407.0,167" fill="none" stroke="#111" stroke-width="1.4" />
<path d="M398.5,166.3 L402.5,166.3 M411.5,166.3 L415.5,166.3 M405.0,165.5 L409.0,165.5" fill="none" stroke="#111" stroke-width="1.4" />
<rect x="425.5" y="152.5" width="35.5" height="18.0" rx="0" fill="none" stroke="#111" stroke-width="1.4" />
<line x1="425.5" y1="169.8" x2="461" y2="169.8" stroke="#111" stroke-width="1.8" />
<path d="M435.05,165.5 C431.25,151 455.25,151 451.45,165.5" fill="none" stroke="#2b2b2b" stroke-width="1" />
<path d="M437.25,165 C434.25,154 452.25,154 449.25,165" fill="none" stroke="#2b2b2b" stroke-width="0.7" />
<path d="M439.25,156.5 L440.75,158 M447.25,156.5 L445.75,158 M436.25,160 L437.75,160.5 M450.25,160 L448.75,160.5" fill="none" stroke="#2b2b2b" stroke-width="0.7" />
<path d="M436.75,163 L436.75,167.5 M449.75,163 L449.75,167.5 M443.25,162.5 L443.25,167" fill="none" stroke="#111" stroke-width="1.4" />
<path d="M434.75,166.3 L438.75,166.3 M447.75,166.3 L451.75,166.3 M441.25,165.5 L445.25,165.5" fill="none" stroke="#111" stroke-width="1.4" />
<rect x="465.5" y="152.5" width="28.0" height="18.0" rx="0" fill="none" stroke="#2b2b2b" stroke-width="1" />
<rect x="467" y="154" width="25" height="7.5" rx="0" fill="none" stroke="#2b2b2b" stroke-width="0.7" />
<line x1="467" y1="154" x2="492" y2="161.5" stroke="#2b2b2b" stroke-width="0.7" />
<line x1="492" y1="154" x2="467" y2="161.5" stroke="#2b2b2b" stroke-width="0.7" />
<rect x="467" y="162" width="25" height="8" rx="0" fill="none" stroke="#2b2b2b" stroke-width="0.7" />
<circle cx="476" cy="166" r="1.6" fill="none" stroke="#2b2b2b" stroke-width="0.7"/>
<path d="M484,163 L484,169 M484,165 L489,163.5" fill="none" stroke="#2b2b2b" stroke-width="1" />
<line x1="400.5" y1="177" x2="400.5" y2="214" stroke="#2b2b2b" stroke-width="0.8" />
<line x1="368.5" y1="212.7" x2="400.5" y2="212.7" stroke="#222" stroke-width="1.6" />
<path d="M368.5,212 A32,35 0 0 1 400.5,177.5" fill="none" stroke="#2b2b2b" stroke-width="0.9" />
<circle cx="400.5" cy="177.5" r="0.9" fill="none" stroke="#2b2b2b" stroke-width="0.6"/>
<line x1="386" y1="106.5" x2="416" y2="106.5" stroke="#222" stroke-width="1.4" />
<path d="M416,106.5 C416,122 404,137 386,137.5" fill="none" stroke="#2b2b2b" stroke-width="0.9" />
<line x1="500" y1="178.7" x2="500" y2="214" stroke="#2b2b2b" stroke-width="0.9" />
<line x1="500" y1="213" x2="533.7" y2="213" stroke="#222" stroke-width="1.6" />
<path d="M500,178.7 A33.8,33.8 0 0 1 533.8,212.5" fill="none" stroke="#2b2b2b" stroke-width="0.9" />
<rect x="507.5" y="106.5" width="32.0" height="14.0" rx="0" fill="none" stroke="#1e1e1e" stroke-width="1.3" />
<rect x="508.7" y="107.7" width="29.6" height="11.6" rx="0" fill="none" stroke="#555" stroke-width="0.6" />
<line x1="523.5" y1="106.5" x2="523.5" y2="120.5" stroke="#2b2b2b" stroke-width="0.8" />
<line x1="507.5" y1="106.5" x2="523.5" y2="120.5" stroke="#2b2b2b" stroke-width="0.8" />
<line x1="539.5" y1="106.5" x2="523.5" y2="120.5" stroke="#2b2b2b" stroke-width="0.8" />
<rect x="540.5" y="106.5" width="32.0" height="14.0" rx="0" fill="none" stroke="#1e1e1e" stroke-width="1.3" />
<rect x="541.7" y="107.7" width="29.6" height="11.6" rx="0" fill="none" stroke="#555" stroke-width="0.6" />
<line x1="556.5" y1="106.5" x2="556.5" y2="120.5" stroke="#2b2b2b" stroke-width="0.8" />
<line x1="540.5" y1="106.5" x2="556.5" y2="120.5" stroke="#2b2b2b" stroke-width="0.8" />
<line x1="572.5" y1="106.5" x2="556.5" y2="120.5" stroke="#2b2b2b" stroke-width="0.8" />
<path d="M607,127 C607,122 619,122 619,127" fill="none" stroke="#2b2b2b" stroke-width="1" />
<rect x="606" y="127" width="14" height="15" rx="2" fill="none" stroke="#2b2b2b" stroke-width="1" />
<path d="M606,130 C602,130 602,139 606,139 M620,130 C624,130 624,139 620,139" fill="none" stroke="#2b2b2b" stroke-width="1" />
<circle cx="609" cy="131" r="0.6" fill="#333" stroke="#333" stroke-width="0.5"/>
<circle cx="617" cy="131" r="0.6" fill="#333" stroke="#333" stroke-width="0.5"/>
<circle cx="609" cy="139" r="0.6" fill="#333" stroke="#333" stroke-width="0.5"/>
<circle cx="617" cy="139" r="0.6" fill="#333" stroke="#333" stroke-width="0.5"/>
<line x1="608" y1="144" x2="618" y2="144" stroke="#2b2b2b" stroke-width="0.8" />
<path d="M585.5,147 L639.5,147 L639.5,168.5 C624,175.8 601,175.8 585.5,168.5 Z" fill="none" stroke="#2b2b2b" stroke-width="1.1" />
<path d="M587.5,149 L587.5,167 C601,173.6 624,173.6 637.5,167 L637.5,149" fill="none" stroke="#555" stroke-width="0.6" />
<line x1="585.5" y1="148.2" x2="639.5" y2="148.2" stroke="#666" stroke-width="1.2" />
<rect x="602" y="148.5" width="20.5" height="11.0" rx="1.5" fill="#fff" stroke="#2b2b2b" stroke-width="0.9" />
<path d="M598,166 L598,161 M596,166 L600,166 M597,163 L599,163" fill="none" stroke="#111" stroke-width="1.1" />
<g transform="rotate(-35 631 164)">
<rect x="626" y="160" width="10" height="8" rx="0" fill="none" stroke="#2b2b2b" stroke-width="0.9" />
<path d="M627,162 L635,162 M627,164 L635,164 M627,166 L635,166 M629,160 L629,168 M632,160 L632,168" fill="none" stroke="#2b2b2b" stroke-width="0.6" />
</g>
<ellipse cx="614" cy="202" rx="10.25" ry="10.25" fill="#fff" stroke="#2b2b2b" stroke-width="1" />
<polyline points="621.7,191.8 623.8,193.9 625.5,196.4 626.5,199.3 626.7,202.3 626.3,205.3 625.2,208.1 623.5,210.5 621.2,212.5 618.5,213.9 615.6,214.6 612.6,214.7 609.7,214.0 607.0,212.6 604.7,210.7" fill="none" stroke="#2b2b2b" stroke-width="1" />
<line x1="621.7" y1="191.8" x2="621.1" y2="196.1" stroke="#222" stroke-width="1.1" />
<line x1="623.8" y1="193.9" x2="622.3" y2="198.0" stroke="#222" stroke-width="1.1" />
<line x1="625.5" y1="196.4" x2="623.0" y2="200.0" stroke="#222" stroke-width="1.1" />
<line x1="626.5" y1="199.3" x2="623.2" y2="202.2" stroke="#222" stroke-width="1.1" />
<line x1="626.7" y1="202.3" x2="622.9" y2="204.4" stroke="#222" stroke-width="1.1" />
<line x1="626.3" y1="205.3" x2="622.1" y2="206.4" stroke="#222" stroke-width="1.1" />
<line x1="625.2" y1="208.1" x2="620.9" y2="208.2" stroke="#222" stroke-width="1.1" />
<line x1="623.5" y1="210.5" x2="619.2" y2="209.6" stroke="#222" stroke-width="1.1" />
<line x1="621.2" y1="212.5" x2="617.3" y2="210.6" stroke="#222" stroke-width="1.1" />
<line x1="618.5" y1="213.9" x2="615.2" y2="211.2" stroke="#222" stroke-width="1.1" />
<line x1="615.6" y1="214.6" x2="613.0" y2="211.2" stroke="#222" stroke-width="1.1" />
<line x1="612.6" y1="214.7" x2="610.9" y2="210.7" stroke="#222" stroke-width="1.1" />
<line x1="609.7" y1="214.0" x2="608.9" y2="209.7" stroke="#222" stroke-width="1.1" />
<line x1="607.0" y1="212.6" x2="607.2" y2="208.3" stroke="#222" stroke-width="1.1" />
<line x1="604.7" y1="210.7" x2="607.2" y2="208.3" stroke="#222" stroke-width="1.1" />
<circle cx="621.7" cy="191.8" r="0.9" fill="none" stroke="#2b2b2b" stroke-width="0.7"/>
<circle cx="604.7" cy="210.7" r="0.9" fill="none" stroke="#2b2b2b" stroke-width="0.7"/>
<circle cx="634.7" cy="189.2" r="8" fill="#fff" stroke="#111" stroke-width="1.7"/>
<path d="M631.5,185 L633.5,194 M636,184.5 L638.5,193" fill="none" stroke="#111" stroke-width="1.6" />
<rect x="507.5" y="226.5" width="36.0" height="15.0" rx="0" fill="none" stroke="#1e1e1e" stroke-width="1.3" />
<rect x="508.7" y="227.7" width="33.6" height="12.6" rx="0" fill="none" stroke="#555" stroke-width="0.6" />
<line x1="525.5" y1="226.5" x2="525.5" y2="241.5" stroke="#2b2b2b" stroke-width="0.8" />
<line x1="507.5" y1="226.5" x2="525.5" y2="241.5" stroke="#2b2b2b" stroke-width="0.8" />
<line x1="543.5" y1="226.5" x2="525.5" y2="241.5" stroke="#2b2b2b" stroke-width="0.8" />
<rect x="553.5" y="226.5" width="51.0" height="15.0" rx="0" fill="none" stroke="#1e1e1e" stroke-width="1.3" />
<rect x="554.7" y="227.7" width="48.6" height="12.6" rx="0" fill="none" stroke="#555" stroke-width="0.6" />
<line x1="579.0" y1="226.5" x2="579.0" y2="241.5" stroke="#2b2b2b" stroke-width="0.8" />
<line x1="553.5" y1="226.5" x2="579.0" y2="241.5" stroke="#2b2b2b" stroke-width="0.8" />
<line x1="604.5" y1="226.5" x2="579.0" y2="241.5" stroke="#2b2b2b" stroke-width="0.8" />
<rect x="612.5" y="226.5" width="34.5" height="15.0" rx="0" fill="none" stroke="#1e1e1e" stroke-width="1.3" />
<rect x="613.7" y="227.7" width="32.1" height="12.6" rx="0" fill="none" stroke="#555" stroke-width="0.6" />
<line x1="629.75" y1="226.5" x2="629.75" y2="241.5" stroke="#2b2b2b" stroke-width="0.8" />
<line x1="612.5" y1="226.5" x2="629.75" y2="241.5" stroke="#2b2b2b" stroke-width="0.8" />
<line x1="647" y1="226.5" x2="629.75" y2="241.5" stroke="#2b2b2b" stroke-width="0.8" />
<rect x="348.5" y="226.5" width="45.5" height="17.0" rx="0" fill="none" stroke="#1e1e1e" stroke-width="1.3" />
<rect x="349.7" y="227.7" width="43.1" height="14.6" rx="0" fill="none" stroke="#555" stroke-width="0.6" />
<line x1="371.25" y1="226.5" x2="371.25" y2="243.5" stroke="#2b2b2b" stroke-width="0.8" />
<line x1="348.5" y1="226.5" x2="371.25" y2="243.5" stroke="#2b2b2b" stroke-width="0.8" />
<line x1="394" y1="226.5" x2="371.25" y2="243.5" stroke="#2b2b2b" stroke-width="0.8" />
<line x1="347" y1="255.5" x2="395" y2="255.5" stroke="#444" stroke-width="0.8" />
<path d="M345.5,257 L348.5,254 M393.5,257 L396.5,254" fill="none" stroke="#444" stroke-width="0.8" />
<text x="371" y="254.5" font-family="'Liberation Serif', serif" font-size="7" text-anchor="middle" fill="#333" stroke="#333" stroke-width="0.2" >1700</text>
<path d="M205,330 L205,341 L330.5,341 L330.5,256" fill="none" stroke="#1c1c1c" stroke-width="3.8" stroke-dasharray="1.7 1.0"/>
<path d="M202.8,330 L202.8,343.3 L332.8,343.3 L332.8,255 M207.2,330 L207.2,338.8 L328.2,338.8 L328.2,262" fill="none" stroke="#222" stroke-width="0.7"/>
<rect x="229.5" y="274.5" width="75.3" height="40.8" fill="none" stroke="#1c1c1c" stroke-width="6.6"/>
<rect x="229.5" y="274.5" width="75.5" height="41" fill="none" stroke="#fff" stroke-width="2.3" stroke-dasharray="2.4 3.6" stroke-linecap="round"/>
<rect x="229.5" y="274.5" width="75.5" height="41" fill="none" stroke="#222" stroke-width="0.7" stroke-dasharray="1 4.8" stroke-dashoffset="-1"/>
<rect x="242.5" y="282.5" width="50.0" height="25.0" rx="0" fill="none" stroke="#111" stroke-width="1.8" />
<rect x="244.5" y="284.5" width="46.0" height="21.0" rx="0" fill="none" stroke="#333" stroke-width="0.6" />
<path d="M246,300 C252,292 258,296 263,288 C268,296 276,288 284,292 M250,287 C256,292 252,298 258,303 M262,304 C268,296 272,300 278,294 C282,298 286,296 289,300 M266,286 C270,290 276,286 280,289 M247,293 L256,290 M270,303 L276,298 M282,303 L288,296 M246,286 C250,290 254,286 258,285 M258,298 C262,294 266,300 270,296 M272,285 C274,292 268,296 264,300 M283,285 C281,290 287,292 289,288 M246,304 L252,300 M254,305 C258,300 262,302 264,296" fill="none" stroke="#222" stroke-width="1" />
<path d="M221.5,226.5 L312.5,226.5 C314.2,226.5 314.7,228 314.7,230 L314.7,256.5 C314.7,259 313.5,260.3 311,260.3 L223,260.3 C220.5,260.3 219.5,259 219.5,256.5 L219.5,230 C219.5,228 220,226.5 221.5,226.5 Z" fill="none" stroke="#2b2b2b" stroke-width="1" />
<path d="M226,234 L226,258 M308.5,234 L308.5,258" fill="none" stroke="#2b2b2b" stroke-width="0.8" />
<line x1="226" y1="238.5" x2="308.5" y2="238.5" stroke="#2b2b2b" stroke-width="0.8" />
<line x1="253" y1="238.5" x2="253" y2="260" stroke="#2b2b2b" stroke-width="0.9" />
<line x1="280.5" y1="238.5" x2="280.5" y2="260" stroke="#2b2b2b" stroke-width="0.9" />
<path d="M219.5,230 C222,233 224.5,234 226,234 M314.7,230 C312,233 310,234 308.5,234" fill="none" stroke="#2b2b2b" stroke-width="0.7" />
<path d="M253,226.5 L253,228.5 M280.5,226.5 L280.5,228.5" fill="none" stroke="#2b2b2b" stroke-width="0.8" />
<g transform="rotate(-24 236 233.8)">
<rect x="230.2" y="228.60000000000002" width="11.6" height="10.4" rx="1" fill="#fff" stroke="#2b2b2b" stroke-width="0.9" />
</g>
<g transform="rotate(12 248.5 235.3)">
<rect x="242.7" y="230.10000000000002" width="11.6" height="10.4" rx="1" fill="#fff" stroke="#2b2b2b" stroke-width="0.9" />
</g>
<g transform="rotate(-12 285.7 235.3)">
<rect x="279.9" y="230.10000000000002" width="11.6" height="10.4" rx="1" fill="#fff" stroke="#2b2b2b" stroke-width="0.9" />
</g>
<g transform="rotate(24 298.3 233.8)">
<rect x="292.5" y="228.60000000000002" width="11.6" height="10.4" rx="1" fill="#fff" stroke="#2b2b2b" stroke-width="0.9" />
</g>
<path d="M192,261.5 L220,261.5 C222,261.5 222.5,263 222.5,265 L222.5,327 C222.5,329 222,330.5 220,330.5 L192,330.5 C190.5,330.5 190,329 190,327 L190,265 C190,263 190.5,261.5 192,261.5 Z" fill="none" stroke="#2b2b2b" stroke-width="1" />
<path d="M200.5,262 L200.5,330 M200.5,266 L222,266 M200.5,326 L222,326" fill="none" stroke="#2b2b2b" stroke-width="0.7" />
<line x1="200.5" y1="296" x2="222.5" y2="296" stroke="#2b2b2b" stroke-width="0.8" />
<path d="M190,265 C194,266 197,265 200.5,262 M190,327 C194,326 197,327 200.5,330" fill="none" stroke="#2b2b2b" stroke-width="0.7" />
<rect x="196" y="232" width="22" height="22.5" rx="1.5" fill="none" stroke="#151515" stroke-width="1.7" />
<rect x="198" y="234" width="18" height="18.5" rx="0" fill="none" stroke="#444" stroke-width="0.6" />
<circle cx="206.7" cy="243.3" r="6.6" fill="none" stroke="#151515" stroke-width="1.6"/>
<circle cx="206.7" cy="243.3" r="4.3" fill="none" stroke="#2b2b2b" stroke-width="0.8"/>
<path d="M204,240 C206,242 205,245 203.5,247 M209.5,240 C207.5,242 208.5,245 210,247 M206.7,239 L206.7,242" fill="none" stroke="#222" stroke-width="0.9" />
<rect x="203.5" y="254.5" width="6.5" height="3.5" rx="0" fill="none" stroke="#2b2b2b" stroke-width="0.8" />
<rect x="317" y="232" width="22" height="22.5" rx="1.5" fill="none" stroke="#151515" stroke-width="1.7" />
<rect x="319" y="234" width="18" height="18.5" rx="0" fill="none" stroke="#444" stroke-width="0.6" />
<circle cx="327.7" cy="243.3" r="6.6" fill="none" stroke="#151515" stroke-width="1.6"/>
<circle cx="327.7" cy="243.3" r="4.3" fill="none" stroke="#2b2b2b" stroke-width="0.8"/>
<path d="M325,240 C327,242 326,245 324.5,247 M330.5,240 C328.5,242 329.5,245 331,247 M327.7,239 L327.7,242" fill="none" stroke="#222" stroke-width="0.9" />
<rect x="324.5" y="254.5" width="6.5" height="3.5" rx="0" fill="none" stroke="#2b2b2b" stroke-width="0.8" />
<g transform="rotate(-41.7 344.3 282.6)">
<rect x="328.8" y="262.6" width="31.0" height="40.0" rx="2.5" fill="#fff" stroke="#2b2b2b" stroke-width="1" />
<path d="M357.3,263.6 L357.3,300.1 L329.8,300.1" fill="none" stroke="#666" stroke-width="1.8" />
<path d="M331.8,263.1 L331.8,297.6 L354.3,297.6 L354.3,263.1" fill="none" stroke="#2b2b2b" stroke-width="0.8" />
<rect x="343.3" y="265.6" width="10.5" height="11.0" rx="2" fill="#fff" stroke="#2b2b2b" stroke-width="0.9" />
<rect x="343.3" y="278.6" width="10.5" height="12.0" rx="2" fill="#fff" stroke="#2b2b2b" stroke-width="0.9" />
</g>
<g transform="rotate(-42.5 316.5 308)">
<rect x="307.0" y="294.5" width="19.0" height="27.0" rx="3" fill="#fff" stroke="#2b2b2b" stroke-width="1" />
</g>
<ellipse cx="242.2" cy="329.8" rx="4.7" ry="3.1" fill="#fff" stroke="#222" stroke-width="0.8" transform="rotate(-29 242.2 329.8)"/>
<line x1="237.3" y1="332.5" x2="244.5" y2="328.5" stroke="#222" stroke-width="0.6" />
<ellipse cx="241.4" cy="336.4" rx="4.7" ry="3.1" fill="#fff" stroke="#222" stroke-width="0.8" transform="rotate(43 241.4 336.4)"/>
<line x1="237.3" y1="332.5" x2="243.3" y2="338.2" stroke="#222" stroke-width="0.6" />
<ellipse cx="234.9" cy="337.6" rx="4.7" ry="3.1" fill="#fff" stroke="#222" stroke-width="0.8" transform="rotate(115 234.9 337.6)"/>
<line x1="237.3" y1="332.5" x2="233.8" y2="340.0" stroke="#222" stroke-width="0.6" />
<ellipse cx="231.7" cy="331.8" rx="4.7" ry="3.1" fill="#fff" stroke="#222" stroke-width="0.8" transform="rotate(187 231.7 331.8)"/>
<line x1="237.3" y1="332.5" x2="229.1" y2="331.4" stroke="#222" stroke-width="0.6" />
<ellipse cx="236.3" cy="327.0" rx="4.7" ry="3.1" fill="#fff" stroke="#222" stroke-width="0.8" transform="rotate(259 236.3 327.0)"/>
<line x1="237.3" y1="332.5" x2="235.8" y2="324.4" stroke="#222" stroke-width="0.6" />
<circle cx="237.3" cy="332.5" r="1.2" fill="#111" stroke="#111" stroke-width="0.6"/>
<ellipse cx="243.8" cy="343.9" rx="5.0" ry="3.4" fill="#fff" stroke="#222" stroke-width="0.8" transform="rotate(-29 243.8 343.9)"/>
<line x1="238.5" y1="346.8" x2="246.2" y2="342.6" stroke="#222" stroke-width="0.6" />
<ellipse cx="242.9" cy="350.9" rx="5.0" ry="3.4" fill="#fff" stroke="#222" stroke-width="0.8" transform="rotate(43 242.9 350.9)"/>
<line x1="238.5" y1="346.8" x2="244.9" y2="352.8" stroke="#222" stroke-width="0.6" />
<ellipse cx="235.9" cy="352.2" rx="5.0" ry="3.4" fill="#fff" stroke="#222" stroke-width="0.8" transform="rotate(115 235.9 352.2)"/>
<line x1="238.5" y1="346.8" x2="234.7" y2="354.8" stroke="#222" stroke-width="0.6" />
<ellipse cx="232.5" cy="346.0" rx="5.0" ry="3.4" fill="#fff" stroke="#222" stroke-width="0.8" transform="rotate(187 232.5 346.0)"/>
<line x1="238.5" y1="346.8" x2="229.8" y2="345.7" stroke="#222" stroke-width="0.6" />
<ellipse cx="237.4" cy="340.9" rx="5.0" ry="3.4" fill="#fff" stroke="#222" stroke-width="0.8" transform="rotate(259 237.4 340.9)"/>
<line x1="238.5" y1="346.8" x2="236.9" y2="338.2" stroke="#222" stroke-width="0.6" />
<circle cx="238.5" cy="346.8" r="1.2" fill="#111" stroke="#111" stroke-width="0.6"/>
<rect x="215.3" y="369.8" width="103.7" height="20.7" rx="0" fill="none" stroke="#2b2b2b" stroke-width="1" />
<line x1="215.3" y1="371.3" x2="319" y2="371.3" stroke="#888" stroke-width="2.2" />
<line x1="216.6" y1="370" x2="216.6" y2="390.5" stroke="#888" stroke-width="1.8" />
<line x1="317.7" y1="370" x2="317.7" y2="390.5" stroke="#888" stroke-width="1.8" />
<rect x="215.3" y="369.8" width="103.7" height="20.7" rx="0" fill="none" stroke="#222" stroke-width="0.9" />
<line x1="218" y1="373" x2="316.5" y2="373" stroke="#333" stroke-width="0.7" />
<rect x="239" y="382.8" width="55" height="4.2" rx="1.8" fill="#555" stroke="#222" stroke-width="0.8" />
<line x1="246" y1="388" x2="287" y2="388" stroke="#333" stroke-width="1.4" />
<path d="M190.3,379.3 L194.6,381.2 L198.7,380.2 L194.9,378.4 Z M190.3,379.3 L194.5,382.3 L199.2,382.2 L195.4,379.4 Z M190.3,379.3 L191.1,384.8 L194.7,388.4 L194.1,383.4 Z M190.3,379.3 L189.7,384.2 L191.9,388.1 L192.6,383.6 Z M190.3,379.3 L186.3,382.9 L185.3,387.6 L189.0,384.5 Z M190.3,379.3 L185.3,381.9 L182.9,386.5 L187.6,384.3 Z M190.3,379.3 L184.6,379.0 L180.2,381.9 L185.4,382.3 Z M190.3,379.3 L185.3,376.7 L180.2,377.5 L184.7,380.0 Z M190.3,379.3 L186.7,374.8 L181.6,373.4 L184.8,377.6 Z M190.3,379.3 L190.4,374.3 L187.7,370.5 L187.5,375.1 Z M190.3,379.3 L193.1,374.3 L192.6,369.1 L189.8,373.6 Z M190.3,379.3 L194.8,375.7 L196.2,370.7 L192.0,373.8 Z M190.3,379.3 L195.6,377.6 L198.5,373.6 L193.7,375.0 Z " fill="#111" stroke="#111" stroke-width="0.7" />
<circle cx="190.3" cy="379.3" r="3.0" fill="#111" stroke="#111" stroke-width="0.5"/>
<rect x="542.5" y="288.5" width="66.0" height="35.0" rx="0" fill="none" stroke="#2b2b2b" stroke-width="1.1" />
<rect x="545.5" y="292" width="60.0" height="28" rx="0" fill="none" stroke="#444" stroke-width="0.7" />
<rect x="539.7" y="297.5" width="71.8" height="16.5" rx="2.5" fill="none" stroke="#2b2b2b" stroke-width="0.9" />
<rect x="544.5" y="268.5" width="18.0" height="19.5" rx="2" fill="none" stroke="#2b2b2b" stroke-width="1.1" />
<rect x="546.3" y="270.3" width="14.4" height="15.9" rx="1.2" fill="none" stroke="#333" stroke-width="0.8" />
<line x1="546.0" y1="270.1" x2="561.0" y2="270.1" stroke="#222" stroke-width="1.8" />
<rect x="544.5" y="324" width="18.0" height="19.5" rx="2" fill="none" stroke="#2b2b2b" stroke-width="1.1" />
<rect x="546.3" y="325.8" width="14.4" height="15.9" rx="1.2" fill="none" stroke="#333" stroke-width="0.8" />
<line x1="546.0" y1="341.9" x2="561.0" y2="341.9" stroke="#222" stroke-width="1.8" />
<rect x="565.5" y="268.5" width="18.0" height="19.5" rx="2" fill="none" stroke="#2b2b2b" stroke-width="1.1" />
<rect x="567.3" y="270.3" width="14.4" height="15.9" rx="1.2" fill="none" stroke="#333" stroke-width="0.8" />
<line x1="567.0" y1="270.1" x2="582.0" y2="270.1" stroke="#222" stroke-width="1.8" />
<rect x="565.5" y="324" width="18.0" height="19.5" rx="2" fill="none" stroke="#2b2b2b" stroke-width="1.1" />
<rect x="567.3" y="325.8" width="14.4" height="15.9" rx="1.2" fill="none" stroke="#333" stroke-width="0.8" />
<line x1="567.0" y1="341.9" x2="582.0" y2="341.9" stroke="#222" stroke-width="1.8" />
<rect x="587" y="268.5" width="18" height="19.5" rx="2" fill="none" stroke="#2b2b2b" stroke-width="1.1" />
<rect x="588.8" y="270.3" width="14.4" height="15.9" rx="1.2" fill="none" stroke="#333" stroke-width="0.8" />
<line x1="588.5" y1="270.1" x2="603.5" y2="270.1" stroke="#222" stroke-width="1.8" />
<rect x="587" y="324" width="18" height="19.5" rx="2" fill="none" stroke="#2b2b2b" stroke-width="1.1" />
<rect x="588.8" y="325.8" width="14.4" height="15.9" rx="1.2" fill="none" stroke="#333" stroke-width="0.8" />
<line x1="588.5" y1="341.9" x2="603.5" y2="341.9" stroke="#222" stroke-width="1.8" />
<path d="M558,299 L558,312 M556,297 C555,293 560.5,293 560,297 C560.5,301 555.5,301 556,297 Z M555.5,312 L560.5,312 M556,293 L556.5,295" fill="#111" stroke="#111" stroke-width="1.7" />
<path d="M587,302 L592,297 L598,302 M590,300 L590,312 M595,300 L595.5,312 M586.5,306 L599,306 M588,312 L598,311 M589,298 L587,299" fill="none" stroke="#111" stroke-width="1.6" />
<path d="M634.5,360.0 L640.2,361.2 L645.1,358.9 L639.9,357.7 Z M634.5,360.0 L638.3,364.2 L643.4,365.2 L640.0,361.3 Z M634.5,360.0 L635.1,364.5 L637.9,367.6 L637.5,363.4 Z M634.5,360.0 L633.4,365.5 L635.6,370.1 L636.7,365.1 Z M634.5,360.0 L631.9,364.4 L632.4,369.1 L634.9,365.1 Z M634.5,360.0 L630.6,362.6 L629.2,366.7 L632.8,364.4 Z M634.5,360.0 L629.0,360.7 L625.3,364.3 L630.4,363.7 Z M634.5,360.0 L631.2,357.1 L627.3,356.7 L630.2,359.5 Z M634.5,360.0 L632.1,355.0 L627.6,352.6 L629.7,357.2 Z M634.5,360.0 L635.0,354.6 L632.5,350.4 L631.9,355.3 Z M634.5,360.0 L635.8,354.9 L634.0,350.4 L632.7,355.0 Z M634.5,360.0 L638.5,357.2 L640.0,353.0 L636.3,355.4 Z M634.5,360.0 L639.2,359.3 L642.4,356.3 L638.0,356.8 Z " fill="#111" stroke="#111" stroke-width="0.7" />
<circle cx="634.5" cy="360" r="3.15" fill="#111" stroke="#111" stroke-width="0.5"/>
<path d="M112.5,411.5 L116.5,413.5 L120.6,412.9 L117.0,410.9 Z M112.5,411.5 L115.9,415.4 L120.4,416.5 L117.5,412.8 Z M112.5,411.5 L114.1,416.0 L117.7,418.5 L116.4,414.3 Z M112.5,411.5 L112.3,417.3 L115.3,421.6 L115.6,416.3 Z M112.5,411.5 L108.6,415.7 L107.9,420.8 L111.6,417.1 Z M112.5,411.5 L108.2,413.1 L105.9,416.6 L109.8,415.2 Z M112.5,411.5 L106.9,411.1 L102.5,413.8 L107.6,414.4 Z M112.5,411.5 L108.5,408.7 L104.0,408.8 L107.6,411.5 Z M112.5,411.5 L109.8,406.3 L105.0,403.9 L107.3,408.7 Z M112.5,411.5 L112.2,406.9 L109.5,403.6 L109.7,407.8 Z M112.5,411.5 L115.7,406.9 L115.7,401.8 L112.6,405.9 Z M112.5,411.5 L116.6,409.4 L118.4,405.6 L114.7,407.4 Z M112.5,411.5 L118.2,411.6 L122.5,408.5 L117.3,408.3 Z " fill="#111" stroke="#111" stroke-width="0.7" />
<circle cx="112.5" cy="411.5" r="3.15" fill="#111" stroke="#111" stroke-width="0.5"/>
<rect x="148.7" y="443.5" width="66.8" height="77.8" rx="0" fill="none" stroke="#1e1e1e" stroke-width="1.5" />
<line x1="149.6" y1="443.5" x2="149.6" y2="521" stroke="#333" stroke-width="1.4" />
<line x1="148.5" y1="520.4" x2="215.5" y2="520.4" stroke="#222" stroke-width="1.8" />
<line x1="148.5" y1="499.5" x2="215.5" y2="499.5" stroke="#2b2b2b" stroke-width="0.8" />
<path d="M155.8,502.5 L178,502 L177.5,517.5 L156.2,517 Z" fill="none" stroke="#2b2b2b" stroke-width="1" />
<path d="M183,502 L206.5,502.5 L206,517 L183.5,517.5 Z" fill="none" stroke="#2b2b2b" stroke-width="1" />
<path d="M156.5,503.2 L161,508 M177.2,503 L173,508 M183.8,503 L188,508 M205.7,503.2 L201.5,508 M157,516.3 L161,512 M177,516.5 L173,512 M184,516.5 L188,512 M205.5,516.3 L201.5,512" fill="none" stroke="#222" stroke-width="0.9" />
<path d="M149,493.5 C160,490.5 172,494 185,491.5 C195,493.5 205,491 215,492.5" fill="none" stroke="#2b2b2b" stroke-width="1" />
<path d="M151,447 C155,450 157,453 158,456 M207,456 C203,464 195,470 184,473.5 M208,465 C203,470 197,474 190,475.5 M178,473 L186,474 L192,477 M158,490 C165,489 172,486 178,483.5 M163,488.5 C167,486 171,484 173,482 M194,486 L200,490 L204,489" fill="none" stroke="#222" stroke-width="1" />
<circle cx="149.3" cy="444.2" r="0.9" fill="none" stroke="#2b2b2b" stroke-width="0.6"/>
<circle cx="214.8" cy="444.2" r="0.9" fill="none" stroke="#2b2b2b" stroke-width="0.6"/>
<rect x="217" y="505.3" width="19" height="16.2" rx="0" fill="none" stroke="#222" stroke-width="1.3" />
<path d="M217,505.3 L217,503 L219,504.5 M236,505.3 L236,503 L234,504.5" fill="none" stroke="#2b2b2b" stroke-width="0.9" />
<circle cx="226.3" cy="513.8" r="3.3" fill="none" stroke="#222" stroke-width="1.1"/>
<circle cx="226.3" cy="513.8" r="1.3" fill="#111" stroke="#111" stroke-width="0.7"/>
<rect x="104.5" y="498.5" width="44.0" height="23.0" rx="0" fill="none" stroke="#2b2b2b" stroke-width="1" />
<path d="M110.5,506 L124.5,506 L123,519.5 L112,519.5 Z M110,508.5 L125,508.5" fill="none" stroke="#2b2b2b" stroke-width="0.9" />
<rect x="115" y="476" width="17.5" height="21" rx="6" fill="none" stroke="#222" stroke-width="1.2" />
<line x1="117.0" y1="477" x2="117.0" y2="496.5" stroke="#333" stroke-width="0.9" />
<line x1="118.9" y1="477" x2="118.9" y2="496.5" stroke="#333" stroke-width="0.9" />
<line x1="120.8" y1="477" x2="120.8" y2="496.5" stroke="#333" stroke-width="0.9" />
<line x1="122.8" y1="477" x2="122.8" y2="496.5" stroke="#333" stroke-width="0.9" />
<line x1="124.8" y1="477" x2="124.8" y2="496.5" stroke="#333" stroke-width="0.9" />
<line x1="126.7" y1="477" x2="126.7" y2="496.5" stroke="#333" stroke-width="0.9" />
<line x1="128.7" y1="477" x2="128.7" y2="496.5" stroke="#333" stroke-width="0.9" />
<line x1="130.6" y1="477" x2="130.6" y2="496.5" stroke="#333" stroke-width="0.9" />
<line x1="115.5" y1="478.6" x2="132" y2="478.6" stroke="#444" stroke-width="0.7" />
<line x1="115.5" y1="481.2" x2="132" y2="481.2" stroke="#444" stroke-width="0.7" />
<line x1="115.5" y1="483.8" x2="132" y2="483.8" stroke="#444" stroke-width="0.7" />
<line x1="115.5" y1="486.4" x2="132" y2="486.4" stroke="#444" stroke-width="0.7" />
<line x1="115.5" y1="489.0" x2="132" y2="489.0" stroke="#444" stroke-width="0.7" />
<line x1="115.5" y1="491.6" x2="132" y2="491.6" stroke="#444" stroke-width="0.7" />
<line x1="115.5" y1="494.2" x2="132" y2="494.2" stroke="#444" stroke-width="0.7" />
<path d="M118,476 L118,473.3 C119,472.3 129,472.3 130,473.3 L130,476" fill="none" stroke="#222" stroke-width="1.1" />
<path d="M115,480.5 C111.5,481 111.5,493 115,493.5 M113,481.5 L113,492.5" fill="none" stroke="#222" stroke-width="1.1" />
<path d="M132.5,480.5 C134.5,481.5 134.5,492.5 132.5,493.5" fill="none" stroke="#333" stroke-width="0.9" />
<rect x="243.5" y="447.5" width="21.0" height="74.0" rx="0" fill="none" stroke="#1e1e1e" stroke-width="1.6" />
<rect x="245.5" y="449.5" width="17.0" height="70.0" rx="0" fill="none" stroke="#555" stroke-width="0.6" />
<line x1="254" y1="452" x2="254" y2="517" stroke="#111" stroke-width="1.5" />
<line x1="247.5" y1="454.0" x2="260.5" y2="454.0" stroke="#111" stroke-width="1.5" />
<line x1="247.5" y1="461.2833333333333" x2="260.5" y2="456.8833333333333" stroke="#111" stroke-width="1.5" />
<line x1="247.5" y1="464.1666666666667" x2="260.5" y2="464.1666666666667" stroke="#111" stroke-width="1.5" />
<line x1="247.5" y1="469.25" x2="260.5" y2="469.25" stroke="#111" stroke-width="1.5" />
<line x1="247.5" y1="476.5333333333333" x2="260.5" y2="472.1333333333333" stroke="#111" stroke-width="1.5" />
<line x1="247.5" y1="479.4166666666667" x2="260.5" y2="479.4166666666667" stroke="#111" stroke-width="1.5" />
<line x1="247.5" y1="484.5" x2="260.5" y2="484.5" stroke="#111" stroke-width="1.5" />
<line x1="247.5" y1="491.7833333333333" x2="260.5" y2="487.3833333333333" stroke="#111" stroke-width="1.5" />
<line x1="247.5" y1="494.6666666666667" x2="260.5" y2="494.6666666666667" stroke="#111" stroke-width="1.5" />
<line x1="247.5" y1="499.75" x2="260.5" y2="499.75" stroke="#111" stroke-width="1.5" />
<line x1="247.5" y1="507.0333333333333" x2="260.5" y2="502.6333333333333" stroke="#111" stroke-width="1.5" />
<line x1="247.5" y1="509.9166666666667" x2="260.5" y2="509.9166666666667" stroke="#111" stroke-width="1.5" />
<line x1="247.5" y1="515.0" x2="260.5" y2="515.0" stroke="#111" stroke-width="1.5" />
<line x1="235" y1="402.7" x2="267.5" y2="402.7" stroke="#222" stroke-width="1.4" />
<line x1="267.5" y1="402" x2="267.5" y2="437.5" stroke="#2b2b2b" stroke-width="0.8" />
<path d="M235,403 C235,420 248,437 267.5,437.5" fill="none" stroke="#2b2b2b" stroke-width="0.9" />
<rect x="271.5" y="446.5" width="25.0" height="24.0" rx="1.5" fill="none" stroke="#1e1e1e" stroke-width="1.3" />
<rect x="271.5" y="448.5" width="3.5" height="20.0" rx="0" fill="none" stroke="#2b2b2b" stroke-width="0.7" />
<circle cx="285.5" cy="458.5" r="8.5" fill="none" stroke="#111" stroke-width="1.4"/>
<circle cx="285.5" cy="458.5" r="6" fill="none" stroke="#2b2b2b" stroke-width="0.8"/>
<path d="M283.5,456 C286,454 288,457 285.5,459 L288,459 M283,461 L288,461" fill="none" stroke="#2b2b2b" stroke-width="0.8" />
<line x1="325.5" y1="441" x2="325.5" y2="474" stroke="#2b2b2b" stroke-width="0.9" />
<path d="M296.5,441 C297,458 309,472 325.5,474" fill="none" stroke="#2b2b2b" stroke-width="0.9" />
<rect x="331.2" y="446.5" width="20.3" height="38.5" rx="0" fill="none" stroke="#1e1e1e" stroke-width="1.7" />
<rect x="333.2" y="448.5" width="16.3" height="34.5" rx="0" fill="none" stroke="#555" stroke-width="0.6" />
<path d="M346.5,458 C333,452 331,478 346.5,472" fill="none" stroke="#2b2b2b" stroke-width="1" />
<path d="M345.5,460.5 C337,457 336,473 345.5,469.5" fill="none" stroke="#2b2b2b" stroke-width="0.7" />
<path d="M343,461 L350,461 M343,469 L350,469 M346,465 L350.5,465 M347.5,458.5 L347.5,463 M347.5,467 L347.5,471.5" fill="none" stroke="#111" stroke-width="1.3" />
<path d="M318.7,521.5 L318.7,503 C318.7,494 325,487.3 334,487.3 L351.5,487.3" fill="none" stroke="#151515" stroke-width="1.7" />
<rect x="332.5" y="499" width="8" height="11" fill="#c4c4c4" stroke="none"/>
<path d="M342,504.5 L351,504.5 M342,501 L346.5,504.5 L342,508 Z" fill="#111" stroke="#111" stroke-width="1.1" />
<path d="M288.8,521 L288.8,515 L308.2,515 L308.2,521" fill="none" stroke="#151515" stroke-width="1.8" />
<line x1="288.5" y1="516" x2="308.5" y2="516" stroke="#222" stroke-width="1.2" />
<path d="M291.5,515 C289.5,507 293,496 298.5,493.2 C304,496 307.5,507 305.5,515" fill="none" stroke="#2b2b2b" stroke-width="1" />
<path d="M294.2,513 C293.2,506 295.2,499 298.5,497.5 C301.8,499 303.8,506 302.8,513 Z" fill="none" stroke="#2b2b2b" stroke-width="0.7" />
<circle cx="298.5" cy="505" r="1.3" fill="none" stroke="#2b2b2b" stroke-width="0.6"/>
<rect x="271.5" y="496.5" width="10.5" height="25.0" rx="0" fill="none" stroke="#2b2b2b" stroke-width="1" />
<rect x="272.5" y="511.5" width="7.0" height="9.0" rx="0" fill="none" stroke="#111" stroke-width="1.5" />
<circle cx="277.3" cy="500" r="1.3" fill="none" stroke="#2b2b2b" stroke-width="0.6"/>
<polyline points="270.5,444 296.5,444 296.5,440.5" fill="none" stroke="#2b2b2b" stroke-width="0.9" />
<rect x="357.5" y="401.5" width="28.0" height="38.0" rx="0" fill="none" stroke="#444" stroke-width="0.9" />
<line x1="403" y1="375.5" x2="433.5" y2="375.5" stroke="#444" stroke-width="0.9" />
<line x1="403" y1="384.5" x2="433.5" y2="384.5" stroke="#444" stroke-width="0.9" />
<line x1="403" y1="393.8" x2="433.5" y2="393.8" stroke="#444" stroke-width="0.9" />
<line x1="403" y1="402.5" x2="433.5" y2="402.5" stroke="#444" stroke-width="0.9" />
<line x1="403" y1="411.5" x2="433.5" y2="411.5" stroke="#444" stroke-width="0.9" />
<line x1="403" y1="420.3" x2="433.5" y2="420.3" stroke="#444" stroke-width="0.9" />
<line x1="403" y1="429.5" x2="433.5" y2="429.5" stroke="#444" stroke-width="0.9" />
<line x1="403" y1="438.3" x2="433.5" y2="438.3" stroke="#444" stroke-width="0.9" />
<line x1="403" y1="375.5" x2="403" y2="477" stroke="#444" stroke-width="0.9" />
<line x1="433.5" y1="380.5" x2="433.5" y2="477" stroke="#444" stroke-width="0.9" />
<polyline points="433.5,380.5 433.5,370.5 449.5,370.5 449.5,381.5" fill="none" stroke="#444" stroke-width="0.9" />
<line x1="357.5" y1="446.5" x2="433.5" y2="446.5" stroke="#444" stroke-width="0.9" />
<line x1="385.5" y1="439.5" x2="385.5" y2="477" stroke="#444" stroke-width="0.9" />
<line x1="394.5" y1="446.5" x2="394.5" y2="477" stroke="#444" stroke-width="0.9" />
<line x1="357.5" y1="477" x2="385.5" y2="446.5" stroke="#444" stroke-width="0.8" />
<line x1="403" y1="446.5" x2="433.5" y2="477" stroke="#444" stroke-width="0.8" />
<line x1="357.5" y1="439.5" x2="357.5" y2="477" stroke="#444" stroke-width="0.9" />
<rect x="445.5" y="381.5" width="48.0" height="87.0" rx="0" fill="none" stroke="#2b2b2b" stroke-width="1.1" />
<rect x="448.5" y="385.5" width="42.0" height="79.0" rx="0" fill="none" stroke="#555" stroke-width="1.8" />
<rect x="450.5" y="387.5" width="38.0" height="75.0" rx="0" fill="none" stroke="#2b2b2b" stroke-width="0.7" />
<polyline points="445.5,400.5 441.5,400.5 441.5,468.5 445.5,468.5" fill="none" stroke="#2b2b2b" stroke-width="0.9" />
<line x1="445.5" y1="468.5" x2="445.5" y2="478" stroke="#2b2b2b" stroke-width="0.9" />
<line x1="445.8" y1="469" x2="445.8" y2="507.5" stroke="#555" stroke-width="1.6" />
<line x1="444.5" y1="478" x2="444.5" y2="507.5" stroke="#333" stroke-width="0.7" />
<line x1="447" y1="469" x2="447" y2="507.5" stroke="#333" stroke-width="0.7" />
<line x1="445.5" y1="474.5" x2="491" y2="474.5" stroke="#2b2b2b" stroke-width="0.9" />
<circle cx="446" cy="507.5" r="1" fill="#222" stroke="#222" stroke-width="0.6"/>
<path d="M446.5,507.3 C462,505.5 475.5,494 477.3,475.5" fill="none" stroke="#2b2b2b" stroke-width="0.95" />
<path d="M477.3,475.5 C478.3,484 483.5,489 491,490" fill="none" stroke="#2b2b2b" stroke-width="0.95" />
<circle cx="477.3" cy="475.5" r="0.9" fill="#222" stroke="#222" stroke-width="0.6"/>
<line x1="491" y1="469" x2="491" y2="490.5" stroke="#2b2b2b" stroke-width="1" />
<circle cx="491" cy="490.3" r="0.9" fill="#222" stroke="#222" stroke-width="0.6"/>
<rect x="495.5" y="382.5" width="12.0" height="41.0" rx="0" fill="none" stroke="#2b2b2b" stroke-width="1" />
<path d="M507.5,382.5 L495.5,403 L507.5,423.5 M495.5,403 L507.5,403" fill="none" stroke="#2b2b2b" stroke-width="0.8" />
<rect x="495.5" y="425.5" width="22.0" height="42.0" rx="0" fill="none" stroke="#2b2b2b" stroke-width="1" />
<path d="M517.5,425.5 L495.5,446.5 L517.5,467.5 M495.5,446.5 L517.5,446.5" fill="none" stroke="#2b2b2b" stroke-width="0.8" />
<polyline points="493.5,381.5 493.5,370.5 496.5,370.5 496.5,365.5 508.5,365.5 508.5,370.5 542.5,370.5 542.5,381.5" fill="none" stroke="#2b2b2b" stroke-width="0.9" />
<line x1="493.5" y1="381.5" x2="542.5" y2="381.5" stroke="#2b2b2b" stroke-width="0.9" />
<rect x="511.5" y="381.5" width="28.0" height="38.0" rx="0" fill="none" stroke="#2b2b2b" stroke-width="1" />
<line x1="515.3" y1="382" x2="515.3" y2="419.5" stroke="#555" stroke-width="3.2" />
<line x1="513.8" y1="382" x2="513.8" y2="419.5" stroke="#111" stroke-width="0.8" />
<line x1="517" y1="382" x2="517" y2="419.5" stroke="#111" stroke-width="0.8" />
<line x1="513.5" y1="418.8" x2="539.5" y2="418.8" stroke="#222" stroke-width="1.6" />
<rect x="517.5" y="383.5" width="20.5" height="20.0" rx="0" fill="none" stroke="#222" stroke-width="1.2" />
<rect x="517.5" y="405.5" width="20.5" height="13.0" rx="0" fill="none" stroke="#222" stroke-width="1.2" />
<line x1="517.5" y1="404.5" x2="538" y2="404.5" stroke="#222" stroke-width="1.4" />
<path d="M538,384 L545.5,403 L538,416 M539.6,388 L543.8,403 L539.6,413 M538,403 L545.5,403" fill="none" stroke="#222" stroke-width="1" />
<rect x="520.5" y="420.5" width="24.0" height="26.0" rx="0" fill="none" stroke="#2b2b2b" stroke-width="1" />
<polyline points="544.5,419.5 544.5,446.5" fill="none" stroke="#111" stroke-width="1.8" />
<polyline points="559.5,446.5 625.5,446.5 625.5,381.5" fill="none" stroke="#111" stroke-width="1.8" />
<rect x="520.5" y="447.5" width="36.0" height="21.0" rx="0" fill="none" stroke="#2b2b2b" stroke-width="1.1" />
<rect x="522.5" y="449.5" width="32.0" height="17.0" rx="0" fill="none" stroke="#555" stroke-width="0.6" />
<circle cx="528" cy="459.3" r="3.4" fill="none" stroke="#2b2b2b" stroke-width="0.9"/>
<circle cx="537.5" cy="459.3" r="3.4" fill="none" stroke="#2b2b2b" stroke-width="0.9"/>
<circle cx="547" cy="459.3" r="3.4" fill="none" stroke="#2b2b2b" stroke-width="0.9"/>
<line x1="559.5" y1="446.5" x2="559.5" y2="469.5" stroke="#2b2b2b" stroke-width="0.9" />
<rect x="580.5" y="452.5" width="26.0" height="13.0" rx="0" fill="none" stroke="#111" stroke-width="1.8" />
<rect x="584" y="455.5" width="7.5" height="7.5" rx="0" fill="none" stroke="#111" stroke-width="1.6" />
<rect x="595" y="455.5" width="7.5" height="7.5" rx="0" fill="none" stroke="#111" stroke-width="1.6" />
<path d="M585,457 L590.5,457 M585,459.5 L590.5,459.5 M596,457 L601.5,457 M596,459.5 L601.5,459.5" fill="none" stroke="#111" stroke-width="0.9" />
<rect x="627.5" y="414" width="17.0" height="32" rx="2.5" fill="none" stroke="#2b2b2b" stroke-width="1.1" />
<rect x="630" y="416.2" width="11" height="9.8" rx="3" fill="none" stroke="#151515" stroke-width="1.6" />
<rect x="630" y="434.5" width="11" height="9.3" rx="3" fill="none" stroke="#151515" stroke-width="1.6" />
<circle cx="635.5" cy="421" r="1.3" fill="#111" stroke="#111" stroke-width="0.6"/>
<circle cx="635.5" cy="439.5" r="1.3" fill="#111" stroke="#111" stroke-width="0.6"/>
<path d="M636,431 C638,429 640,428 642,426 M637,433 L641,430" fill="none" stroke="#222" stroke-width="1.1" />
<line x1="630" y1="445" x2="642" y2="445" stroke="#444" stroke-width="1.2" />
<rect x="624.5" y="458.5" width="11.0" height="11.0" rx="0" fill="none" stroke="#2b2b2b" stroke-width="0.9" />
<circle cx="629.5" cy="463" r="1.4" fill="none" stroke="#2b2b2b" stroke-width="0.7"/>
<rect x="636.5" y="461" width="10.0" height="8" rx="0" fill="none" stroke="#151515" stroke-width="1.5" />
<line x1="636.5" y1="458.5" x2="646.5" y2="458.5" stroke="#2b2b2b" stroke-width="0.8" />
<rect x="637.5" y="384.5" width="9.5" height="16.0" rx="0" fill="none" stroke="#2b2b2b" stroke-width="0.9" />
<line x1="637.5" y1="384.5" x2="647" y2="400.5" stroke="#2b2b2b" stroke-width="0.8" />
<line x1="647" y1="384.5" x2="637.5" y2="400.5" stroke="#2b2b2b" stroke-width="0.8" />
<path d="M609,414 C609,410 613,408.5 618,409.5 L623,411.5 L621.5,417 L617,419 L614,416 L611,420 Z" fill="none" stroke="#222" stroke-width="1" />
<path d="M610,419.5 C607,423 609,428 612.5,430 C613.5,436 618,440 623.5,441.5 L624,436 C620,434.5 617.5,430 617,425 L620,419" fill="none" stroke="#222" stroke-width="1" />
<path d="M611,420 L616,424.5 M614,416 L617,412 L622,413 M612.5,430 L616,427" fill="none" stroke="#222" stroke-width="0.8" />
<line x1="300" y1="196.8" x2="553" y2="196.8" stroke="#262626" stroke-width="1.2" stroke-dasharray="2.3 2.5"/>
<polyline points="304.5,194.05 298,196.8 304.5,199.55" fill="none" stroke="#262626" stroke-width="1.1" stroke-dasharray="2.4 1.2"/>
<polyline points="548.5,194.05 555,196.8 548.5,199.55" fill="none" stroke="#262626" stroke-width="1.1" stroke-dasharray="2.4 1.2"/>
<line x1="365.5" y1="108" x2="365.5" y2="196.8" stroke="#262626" stroke-width="1.2" stroke-dasharray="2.3 2.5"/>
<polyline points="362.75,112.5 365.5,106 368.25,112.5" fill="none" stroke="#262626" stroke-width="1.1" stroke-dasharray="2.4 1.2"/>
<line x1="365.5" y1="122.5" x2="419" y2="122.5" stroke="#262626" stroke-width="1.2" stroke-dasharray="2.3 2.5"/>
<polyline points="414.5,119.75 421,122.5 414.5,125.25" fill="none" stroke="#262626" stroke-width="1.1" stroke-dasharray="2.4 1.2"/>
<line x1="437.8" y1="197" x2="437.8" y2="350.5" stroke="#262626" stroke-width="1.2" stroke-dasharray="2.3 2.5"/>
<line x1="438" y1="304" x2="508" y2="304" stroke="#262626" stroke-width="1.2" stroke-dasharray="2.3 2.5"/>
<polyline points="503.5,301.25 510,304 503.5,306.75" fill="none" stroke="#262626" stroke-width="1.1" stroke-dasharray="2.4 1.2"/>
<line x1="283" y1="350.6" x2="581" y2="350.6" stroke="#262626" stroke-width="1.2" stroke-dasharray="2.3 2.5"/>
<polyline points="287.5,347.85 281,350.6 287.5,353.35" fill="none" stroke="#262626" stroke-width="1.1" stroke-dasharray="2.4 1.2"/>
<line x1="581" y1="350.6" x2="581" y2="409" stroke="#262626" stroke-width="1.2" stroke-dasharray="2.3 2.5"/>
<polyline points="578.25,404.5 581,411 583.75,404.5" fill="none" stroke="#262626" stroke-width="1.1" stroke-dasharray="2.4 1.2"/>
<line x1="372.3" y1="350.6" x2="372.3" y2="419" stroke="#262626" stroke-width="1.2" stroke-dasharray="2.3 2.5"/>
<line x1="372.3" y1="432" x2="372.3" y2="462" stroke="#262626" stroke-width="1.2" stroke-dasharray="2.3 2.5"/>
<line x1="417.5" y1="350.6" x2="417.5" y2="462" stroke="#262626" stroke-width="1.2" stroke-dasharray="2.3 2.5"/>
<line x1="372.5" y1="462" x2="417.5" y2="462" stroke="#262626" stroke-width="1.2" stroke-dasharray="2.3 2.5"/>
<line x1="468" y1="350.6" x2="468" y2="475" stroke="#262626" stroke-width="1.2" stroke-dasharray="2.3 2.5"/>
<line x1="204" y1="419" x2="372.5" y2="419" stroke="#262626" stroke-width="1.2" stroke-dasharray="2.3 2.5"/>
<polyline points="208.5,416.25 202,419 208.5,421.75" fill="none" stroke="#262626" stroke-width="1.1" stroke-dasharray="2.4 1.2"/>
<line x1="311" y1="419" x2="311" y2="474" stroke="#262626" stroke-width="1.2" stroke-dasharray="2.3 2.5"/>
<polyline points="308.25,469.5 311,476 313.75,469.5" fill="none" stroke="#262626" stroke-width="1.1" stroke-dasharray="2.4 1.2"/>
<polyline points="369.55,433.0 372.3,427.5 375.05,433.0" fill="none" stroke="#262626" stroke-width="1.1" stroke-dasharray="2.4 1.2"/>
<path d="M5,0 L6,1.5 M1.5,3 L8.5,3 M2.5,6 L7.5,6 M0.5,9.5 L9.5,9.5 M5,3 L5,9.5" transform="translate(239.10 176.70) scale(0.860)" fill="none" stroke="#0c0c0c" stroke-width="1.51" stroke-linecap="square"/>
<path d="M0.8,1 L0.8,9.2 L5,9.2 M0.8,1 L5,1 M0.8,3.7 L4.5,3.7 L4.5,6.5 L0.8,6.5 M3,1 L3,3.7 M3,6.5 L3,9.2 M7.2,0.3 L7.2,9.8 M7.2,4 L9.5,5.8" transform="translate(248.70 176.70) scale(0.860)" fill="none" stroke="#0c0c0c" stroke-width="1.51" stroke-linecap="square"/>
<path d="M5,0 L5,1.5 M0.8,3.2 L0.8,1.7 L9.2,1.7 L9.2,3.2 M2,3.6 L8,3.6 M5,3.6 L3,5.6 L7.5,5.4 M2.5,7.3 L7.5,7.3 M5,5.8 L5,9.6 M1,9.6 L9,9.6" transform="translate(258.30 176.70) scale(0.860)" fill="none" stroke="#0c0c0c" stroke-width="1.51" stroke-linecap="square"/>
<path d="M5,0 L5,1.5 M1,2.3 L9,2.3 M5,2.3 L1,6.5 M3.5,5 L3.5,9.8 L5.5,8.5 M8,4 L5.5,6 M5.5,5 L9.5,9.5" transform="translate(352.80 126.70) scale(0.860)" fill="none" stroke="#0c0c0c" stroke-width="1.51" stroke-linecap="square"/>
<path d="M0.5,2.5 L0.5,7 M0.5,2.5 L3.5,2.5 L3.5,7 M2,0.5 L2,9.8 M5,0.8 L9.5,0.8 L9.5,3.6 L5,3.6 Z M5,2.2 L9.5,2.2 M5.5,4.8 L9,4.8 L9,9.6 L5.5,9.6 Z M5.5,6.4 L9,6.4 M5.5,8 L9,8" transform="translate(362.20 126.70) scale(0.860)" fill="none" stroke="#0c0c0c" stroke-width="1.51" stroke-linecap="square"/>
<path d="M1,0.5 L2,1.5 M1,2.5 L1,9.8 M3.5,1 L9,1 L9,9.8 L8,9.3 M3.5,3.5 L6.5,3.5 L6.5,8 L3.5,8 Z M3.5,5.7 L6.5,5.7" transform="translate(371.60 126.70) scale(0.860)" fill="none" stroke="#0c0c0c" stroke-width="1.51" stroke-linecap="square"/>
<path d="M5,0 L6,1.5 M1.5,3 L8.5,3 M2.5,6 L7.5,6 M0.5,9.5 L9.5,9.5 M5,3 L5,9.5" transform="translate(406.40 134.10) scale(0.880)" fill="none" stroke="#0c0c0c" stroke-width="1.48" stroke-linecap="square"/>
<path d="M1,1.2 L8,1.2 L8,5.5 L7,5 M4.5,1.2 L4.5,9.3 M0.5,9.3 L9.5,9.3" transform="translate(416.20 134.10) scale(0.880)" fill="none" stroke="#0c0c0c" stroke-width="1.48" stroke-linecap="square"/>
<path d="M3,0.5 L1.5,4 M2.5,2.5 L8.5,2.5 M5,0.3 L5,9.5 M2,5.8 L8,5.8 M0.5,9.5 L9.5,9.5" transform="translate(426.00 134.10) scale(0.880)" fill="none" stroke="#0c0c0c" stroke-width="1.48" stroke-linecap="square"/>
<path d="M1,0.5 L2,1.5 M1,2.5 L1,9.8 M3.5,1 L9,1 L9,9.8 L8,9.3 M3.5,3.5 L6.5,3.5 L6.5,8 L3.5,8 Z M3.5,5.7 L6.5,5.7" transform="translate(435.80 134.10) scale(0.880)" fill="none" stroke="#0c0c0c" stroke-width="1.48" stroke-linecap="square"/>
<path d="M1.5,2 L7.5,2 L7.5,4.8 M0.5,4.8 L9.2,4.8 L9.2,8 L8,7.5 M4.5,0.3 L4.5,9.8 M8.5,0.5 L9.3,1.5" transform="translate(565.40 189.70) scale(0.860)" fill="none" stroke="#0c0c0c" stroke-width="1.51" stroke-linecap="square"/>
<path d="M4.5,0 L5.5,1 M1.5,1.6 L9,1.6 L9,3.6 L1.5,3.6 M1.5,1.6 L1.5,6 L0.5,9.8 M5.5,4.2 L5.5,5.2 M2.8,5.6 L9.5,5.6 M5,5.6 L3,9.8 M5,7.2 L8.5,7.2 L8,9.8 L7,9.3" transform="translate(575.00 189.70) scale(0.860)" fill="none" stroke="#0c0c0c" stroke-width="1.51" stroke-linecap="square"/>
<path d="M1,0.8 L2.2,2 M0.5,4 L2.2,4 L2.2,8 M2.2,8 L0.5,9.3 M2.2,8 C4,9.6 7,9.6 9.8,9.5 M3.5,2.5 L9.5,2.5 M7.8,0.5 L7.8,7.5 L6.8,7 M5,4.2 L5.8,5.5" transform="translate(429.40 268.70) scale(0.860)" fill="none" stroke="#0c0c0c" stroke-width="1.51" stroke-linecap="square"/>
<path d="M5,0 L5,1.2 M1.2,1.4 L9.5,1.4 M1.2,1.4 L1.2,6 L0.3,9.8 M3,3 L5.8,3 L5.8,6.6 L3,6.6 Z M3,4.8 L5.8,4.8 M3,3 L3,9.5 L5,8.5 M4.5,7 L6,9 M7.2,2.8 L9.3,2.8 L8.3,5 L9.4,7 L8.2,7.5 M7.2,2.8 L7.2,9.8" transform="translate(439.00 268.70) scale(0.860)" fill="none" stroke="#0c0c0c" stroke-width="1.51" stroke-linecap="square"/>
<path d="M5,0 L5,1.3 M0.8,3 L0.8,1.6 L9.2,1.6 L9.2,3 M4.5,2.6 L2,5.5 M3.5,3.6 L7,3.6 L4.8,5.8 L1,7 M4.8,5.8 L9.3,7 M3,7.2 L7.2,7.2 L7.2,9.7 L3,9.7 Z" transform="translate(259.90 346.70) scale(0.860)" fill="none" stroke="#0c0c0c" stroke-width="1.51" stroke-linecap="square"/>
<path d="M1.2,1 L9.5,1 M1.2,1 L1.2,6 L0.3,9.8 M3.2,3.8 L9.3,3.8 M6.3,3.8 L6.3,9.4 L5.2,8.8" transform="translate(269.50 346.70) scale(0.860)" fill="none" stroke="#0c0c0c" stroke-width="1.51" stroke-linecap="square"/>
<path d="M3,0 L1,2.2 M2,1.2 L4.5,1.2 L3,3.2 M2,2 L3.4,2.8 M6,0.5 L9.3,0.5 L7.2,3.2 M6.2,1.2 L9,3.4 M5,3.2 L1,5.6 M5,3.2 L9.3,5.6 M3.3,5 L6.8,5 M3,6 L7,6 L7,8.2 L3,8.2 Z M3,7.1 L7,7.1 M3,6 L3,9.6 L5,9 M5.5,8.2 L8.5,9.8 M7,8.8 L8.5,8" transform="translate(566.00 304.40) scale(0.780)" fill="none" stroke="#0c0c0c" stroke-width="1.67" stroke-linecap="square"/>
<path d="M1.2,1 L9.5,1 M1.2,1 L1.2,6 L0.3,9.8 M3.2,3.8 L9.3,3.8 M6.3,3.8 L6.3,9.4 L5.2,8.8" transform="translate(574.60 304.40) scale(0.780)" fill="none" stroke="#0c0c0c" stroke-width="1.67" stroke-linecap="square"/>
<path d="M1.2,0.8 L9.6,0.8 M1.2,0.8 L1.2,6 L0.3,9.8 M2.6,2.8 L6.2,2.8 M4.4,2 L4.4,2.8 M3,4.2 L5.8,4.2 L5.8,6 L3,6 Z M3,7.2 L3.6,8.4 M5.6,7 L5,8.4 M2.4,9.4 L6.4,9.4 M6.6,4.2 L9.8,4.2 M8.6,2 L8.6,9.4 L7.6,8.9 M7,5.6 L7.6,6.8" transform="translate(566.90 414.70) scale(0.860)" fill="none" stroke="#0c0c0c" stroke-width="1.51" stroke-linecap="square"/>
<path d="M4.5,0 L5.5,1 M1.5,1.6 L9,1.6 L9,3.6 L1.5,3.6 M1.5,1.6 L1.5,6 L0.5,9.8 M5.5,4.2 L5.5,5.2 M2.8,5.6 L9.5,5.6 M5,5.6 L3,9.8 M5,7.2 L8.5,7.2 L8,9.8 L7,9.3" transform="translate(576.50 414.70) scale(0.860)" fill="none" stroke="#0c0c0c" stroke-width="1.51" stroke-linecap="square"/>
<path d="M0.8,1 L0.8,9.2 L5,9.2 M0.8,1 L5,1 M0.8,3.7 L4.5,3.7 L4.5,6.5 L0.8,6.5 M3,1 L3,3.7 M3,6.5 L3,9.2 M7.2,0.3 L7.2,9.8 M7.2,4 L9.5,5.8" transform="translate(178.90 414.70) scale(0.860)" fill="none" stroke="#0c0c0c" stroke-width="1.51" stroke-linecap="square"/>
<path d="M5,0 L5,1.5 M0.8,3.2 L0.8,1.7 L9.2,1.7 L9.2,3.2 M2,3.6 L8,3.6 M5,3.6 L3,5.6 L7.5,5.4 M2.5,7.3 L7.5,7.3 M5,5.8 L5,9.6 M1,9.6 L9,9.6" transform="translate(188.50 414.70) scale(0.860)" fill="none" stroke="#0c0c0c" stroke-width="1.51" stroke-linecap="square"/>
<path d="M1,1.2 L8,1.2 L8,5.5 L7,5 M4.5,1.2 L4.5,9.3 M0.5,9.3 L9.5,9.3" transform="translate(294.00 481.80) scale(0.880)" fill="none" stroke="#0c0c0c" stroke-width="1.48" stroke-linecap="square"/>
<path d="M3,0.5 L1.5,4 M2.5,2.5 L8.5,2.5 M5,0.3 L5,9.5 M2,5.8 L8,5.8 M0.5,9.5 L9.5,9.5" transform="translate(303.80 481.80) scale(0.880)" fill="none" stroke="#0c0c0c" stroke-width="1.48" stroke-linecap="square"/>
<path d="M1,0.5 L2,1.5 M1,2.5 L1,9.8 M3.5,1 L9,1 L9,9.8 L8,9.3 M3.5,3.5 L6.5,3.5 L6.5,8 L3.5,8 Z M3.5,5.7 L6.5,5.7" transform="translate(313.60 481.80) scale(0.880)" fill="none" stroke="#0c0c0c" stroke-width="1.48" stroke-linecap="square"/>
<path d="M5,0 L5,1.4 M0.8,2.3 L9.2,2.3 M5.5,2.8 L2.5,5.2 L6.5,5 L2,9 L8,8.5 M6.8,6.8 L8.8,9.6 M4,3.8 L5.5,5" transform="translate(460.40 420.70) scale(0.860)" fill="none" stroke="#0c0c0c" stroke-width="1.51" stroke-linecap="square"/>
<path d="M2.8,0.5 L3.8,2 M7.2,0.5 L6.2,2 M1.8,3 L8.2,3 M0.6,5.8 L9.4,5.8 M5,3 L5,5.8 L1,9.8 M5,5.8 L9.4,9.8" transform="translate(470.00 420.70) scale(0.860)" fill="none" stroke="#0c0c0c" stroke-width="1.51" stroke-linecap="square"/>
</g>
</svg>
</body></html>
